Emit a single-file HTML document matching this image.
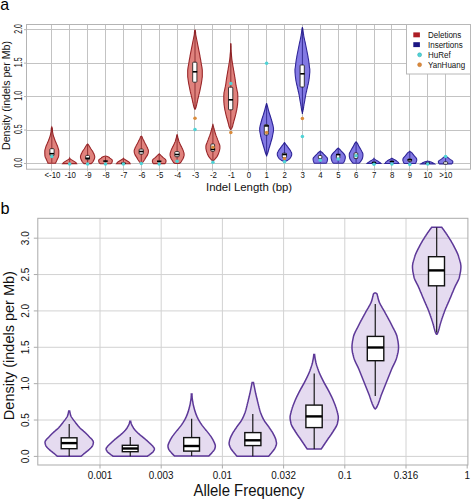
<!DOCTYPE html><html><head><meta charset="utf-8"><style>html,body{margin:0;padding:0;background:#fff;width:472px;height:500px;overflow:hidden}svg{display:block}text{font-family:"Liberation Sans",sans-serif}</style></head><body>
<svg width="472" height="500" viewBox="0 0 472 500">
<rect width="472" height="500" fill="#fff"/>
<g stroke="#c3c3c3" stroke-width="1" fill="none">
<line x1="26.5" y1="163.5" x2="470.5" y2="163.5"/>
<line x1="26.5" y1="130.5" x2="470.5" y2="130.5"/>
<line x1="26.5" y1="96.5" x2="470.5" y2="96.5"/>
<line x1="26.5" y1="63.5" x2="470.5" y2="63.5"/>
<line x1="26.5" y1="29.5" x2="470.5" y2="29.5"/>
<line x1="51.5" y1="24.5" x2="51.5" y2="171.2"/>
<line x1="69.5" y1="24.5" x2="69.5" y2="171.2"/>
<line x1="87.5" y1="24.5" x2="87.5" y2="171.2"/>
<line x1="105.5" y1="24.5" x2="105.5" y2="171.2"/>
<line x1="123.5" y1="24.5" x2="123.5" y2="171.2"/>
<line x1="141.5" y1="24.5" x2="141.5" y2="171.2"/>
<line x1="159.5" y1="24.5" x2="159.5" y2="171.2"/>
<line x1="177.5" y1="24.5" x2="177.5" y2="171.2"/>
<line x1="194.5" y1="24.5" x2="194.5" y2="171.2"/>
<line x1="212.5" y1="24.5" x2="212.5" y2="171.2"/>
<line x1="230.5" y1="24.5" x2="230.5" y2="171.2"/>
<line x1="248.5" y1="24.5" x2="248.5" y2="171.2"/>
<line x1="266.5" y1="24.5" x2="266.5" y2="171.2"/>
<line x1="284.5" y1="24.5" x2="284.5" y2="171.2"/>
<line x1="302.5" y1="24.5" x2="302.5" y2="171.2"/>
<line x1="320.5" y1="24.5" x2="320.5" y2="171.2"/>
<line x1="338.5" y1="24.5" x2="338.5" y2="171.2"/>
<line x1="356.5" y1="24.5" x2="356.5" y2="171.2"/>
<line x1="374.5" y1="24.5" x2="374.5" y2="171.2"/>
<line x1="391.5" y1="24.5" x2="391.5" y2="171.2"/>
<line x1="409.5" y1="24.5" x2="409.5" y2="171.2"/>
<line x1="427.5" y1="24.5" x2="427.5" y2="171.2"/>
<line x1="445.5" y1="24.5" x2="445.5" y2="171.2"/>
</g>
<g stroke="#b4b4b4" stroke-width="1" fill="none">
<rect x="26.5" y="24.5" width="444" height="144.7"/>
<line x1="24" y1="163.5" x2="26.5" y2="163.5"/>
<line x1="24" y1="130.05" x2="26.5" y2="130.05"/>
<line x1="24" y1="96.6" x2="26.5" y2="96.6"/>
<line x1="24" y1="63.15" x2="26.5" y2="63.15"/>
<line x1="24" y1="29.7" x2="26.5" y2="29.7"/>
</g>
<path d="M51.8 126.9 L52 127.4 L52.2 127.9 L52.3 128.4 L52.3 128.9 L52.4 129.4 L52.4 129.9 L52.4 130.4 L52.5 130.9 L52.5 131.5 L52.6 132 L52.7 132.5 L52.8 133 L52.9 133.5 L53 134 L53.1 134.5 L53.2 135 L53.3 135.5 L53.4 136 L53.6 136.5 L53.8 137 L54 137.5 L54.1 138 L54.3 138.5 L54.5 139 L54.7 139.5 L54.9 140 L55.1 140.6 L55.3 141.1 L55.5 141.6 L55.7 142.1 L56 142.6 L56.2 143.1 L56.4 143.6 L56.6 144.1 L56.8 144.6 L57 145.1 L57.3 145.6 L57.5 146.1 L57.7 146.6 L57.8 147.1 L58 147.6 L58.1 148.1 L58.3 148.6 L58.4 149.1 L58.6 149.7 L58.7 150.2 L58.8 150.7 L58.8 151.2 L58.8 151.7 L58.8 152.2 L58.8 152.7 L58.8 153.2 L58.8 153.7 L58.8 154.2 L58.7 154.7 L58.7 155.2 L58.7 155.7 L58.6 156.2 L58.5 156.7 L58.3 157.2 L58.1 157.7 L57.8 158.2 L57.6 158.8 L57.3 159.3 L57.1 159.8 L56.9 160.3 L56.6 160.8 L56.4 161.3 L56.2 161.8 L55.9 162.3 L55.7 162.8 L55.5 163.3 L48 163.3 L47.9 162.8 L47.7 162.3 L47.4 161.8 L47.2 161.3 L47 160.8 L46.7 160.3 L46.5 159.8 L46.3 159.3 L46 158.8 L45.8 158.2 L45.5 157.7 L45.3 157.2 L45.1 156.7 L45 156.2 L44.9 155.7 L44.9 155.2 L44.9 154.7 L44.8 154.2 L44.8 153.7 L44.8 153.2 L44.8 152.7 L44.8 152.2 L44.8 151.7 L44.8 151.2 L44.8 150.7 L44.9 150.2 L45 149.7 L45.2 149.1 L45.3 148.6 L45.5 148.1 L45.6 147.6 L45.8 147.1 L45.9 146.6 L46.1 146.1 L46.3 145.6 L46.6 145.1 L46.8 144.6 L47 144.1 L47.2 143.6 L47.4 143.1 L47.6 142.6 L47.9 142.1 L48.1 141.6 L48.3 141.1 L48.5 140.6 L48.7 140 L48.9 139.5 L49.1 139 L49.3 138.5 L49.5 138 L49.6 137.5 L49.8 137 L50 136.5 L50.2 136 L50.3 135.5 L50.4 135 L50.5 134.5 L50.6 134 L50.7 133.5 L50.8 133 L50.9 132.5 L51 132 L51.1 131.5 L51.1 130.9 L51.2 130.4 L51.2 129.9 L51.2 129.4 L51.3 128.9 L51.3 128.4 L51.4 127.9 L51.6 127.4 L51.8 126.9Z" fill="#e0827d" stroke="#992629" stroke-width="1.1"/>
<line x1="51.8" y1="127.9" x2="51.8" y2="162.8" stroke="#7c1d21" stroke-width="0.8"/>
<rect x="49.9" y="148.7" width="4.2" height="6.9" rx="0.8" fill="#fff" stroke="#111" stroke-width="0.8"/>
<line x1="49.6" y1="153.7" x2="54" y2="153.7" stroke="#000" stroke-width="1.6"/>
<circle cx="51.8" cy="156.5" r="1.75" fill="#4fd3d6"/>
<path d="M69.7 158.1 L69.9 158.6 L70.6 159.1 L71.3 159.6 L72.1 160.1 L72.9 160.6 L73.7 161.1 L74.5 161.6 L75.3 162.1 L75.9 162.6 L76.3 163.1 L76.6 163.6 L62.7 163.6 L63.1 163.1 L63.5 162.6 L64.1 162.1 L64.9 161.6 L65.7 161.1 L66.5 160.6 L67.3 160.1 L68.1 159.6 L68.8 159.1 L69.5 158.6 L69.7 158.1Z" fill="#e0827d" stroke="#992629" stroke-width="1.1"/>
<line x1="69.7" y1="159.1" x2="69.7" y2="163.1" stroke="#7c1d21" stroke-width="0.8"/>
<circle cx="69.7" cy="163.9" r="1.75" fill="#4fd3d6"/>
<path d="M87.6 143.5 L87.7 144 L88.1 144.5 L88.6 145 L88.9 145.5 L89.2 146 L89.5 146.5 L89.8 147 L90.1 147.5 L90.4 148 L90.7 148.5 L91 149 L91.4 149.5 L91.7 150 L92.1 150.5 L92.4 151 L92.7 151.5 L93 152 L93.2 152.5 L93.5 153 L93.7 153.6 L94 154.1 L94.2 154.6 L94.4 155.1 L94.5 155.6 L94.7 156.1 L94.7 156.6 L94.7 157.1 L94.7 157.6 L94.6 158.1 L94.4 158.6 L94.3 159.1 L94.1 159.6 L93.8 160.1 L93.6 160.6 L93.3 161.1 L93 161.6 L92.6 162.1 L92.1 162.6 L91.7 163.1 L91.1 163.6 L84 163.6 L83.5 163.1 L83.1 162.6 L82.6 162.1 L82.2 161.6 L81.9 161.1 L81.6 160.6 L81.4 160.1 L81.1 159.6 L80.9 159.1 L80.8 158.6 L80.6 158.1 L80.5 157.6 L80.5 157.1 L80.5 156.6 L80.5 156.1 L80.7 155.6 L80.8 155.1 L81 154.6 L81.2 154.1 L81.5 153.6 L81.7 153 L82 152.5 L82.2 152 L82.5 151.5 L82.8 151 L83.1 150.5 L83.5 150 L83.8 149.5 L84.2 149 L84.5 148.5 L84.8 148 L85.1 147.5 L85.4 147 L85.7 146.5 L86 146 L86.3 145.5 L86.6 145 L87.1 144.5 L87.5 144 L87.6 143.5Z" fill="#e0827d" stroke="#992629" stroke-width="1.1"/>
<line x1="87.6" y1="144.5" x2="87.6" y2="163.1" stroke="#7c1d21" stroke-width="0.8"/>
<rect x="85.7" y="155.4" width="3.8" height="4.2" rx="0.8" fill="#fff" stroke="#111" stroke-width="0.8"/>
<line x1="85.4" y1="158.3" x2="89.8" y2="158.3" stroke="#000" stroke-width="1.6"/>
<circle cx="87.6" cy="163.9" r="1.75" fill="#4fd3d6"/>
<path d="M105.5 156 L107.3 156.5 L108.5 157 L109.3 157.5 L109.9 158.1 L110.6 158.6 L111.3 159.1 L111.9 159.6 L112.3 160.1 L112.3 160.6 L112.3 161.1 L112.2 161.6 L112 162.2 L111.8 162.7 L111.3 163.2 L110.5 163.7 L100.5 163.7 L99.7 163.2 L99.2 162.7 L99 162.2 L98.8 161.6 L98.7 161.1 L98.7 160.6 L98.7 160.1 L99.1 159.6 L99.7 159.1 L100.4 158.6 L101.1 158.1 L101.7 157.5 L102.5 157 L103.7 156.5 L105.5 156Z" fill="#e0827d" stroke="#992629" stroke-width="1.1"/>
<line x1="105.5" y1="157" x2="105.5" y2="163.2" stroke="#7c1d21" stroke-width="0.8"/>
<line x1="103.3" y1="161.1" x2="107.7" y2="161.1" stroke="#000" stroke-width="1.6"/>
<circle cx="105.5" cy="164" r="1.75" fill="#4fd3d6"/>
<path d="M123.4 158.2 L123.7 158.7 L124.5 159.2 L125.3 159.7 L126.1 160.2 L126.9 160.7 L127.7 161.2 L128.5 161.7 L129.1 162.2 L129.6 162.7 L130 163.2 L130.2 163.7 L116.5 163.7 L116.8 163.2 L117.2 162.7 L117.7 162.2 L118.3 161.7 L119.1 161.2 L119.9 160.7 L120.7 160.2 L121.5 159.7 L122.3 159.2 L123.1 158.7 L123.4 158.2Z" fill="#e0827d" stroke="#992629" stroke-width="1.1"/>
<line x1="123.4" y1="159.2" x2="123.4" y2="163.2" stroke="#7c1d21" stroke-width="0.8"/>
<line x1="121.2" y1="163.3" x2="125.6" y2="163.3" stroke="#000" stroke-width="1.6"/>
<circle cx="123.4" cy="164" r="1.75" fill="#4fd3d6"/>
<path d="M141.3 136.2 L141.9 136.7 L142.3 137.2 L142.4 137.7 L142.6 138.2 L142.8 138.7 L143.1 139.2 L143.3 139.7 L143.6 140.2 L143.8 140.8 L144.1 141.3 L144.3 141.8 L144.6 142.3 L144.8 142.8 L145.1 143.3 L145.3 143.8 L145.6 144.3 L145.9 144.8 L146.1 145.3 L146.4 145.8 L146.7 146.3 L146.9 146.8 L147.2 147.3 L147.4 147.8 L147.6 148.3 L147.8 148.8 L148.1 149.3 L148.2 149.8 L148.4 150.4 L148.4 150.9 L148.4 151.4 L148.4 151.9 L148.3 152.4 L148.2 152.9 L148.1 153.4 L147.9 153.9 L147.7 154.4 L147.5 154.9 L147.2 155.4 L146.9 155.9 L146.6 156.4 L146.2 156.9 L145.9 157.4 L145.6 157.9 L145.3 158.4 L145 158.9 L144.7 159.5 L144.4 160 L144 160.5 L143.7 161 L143.4 161.5 L143 162 L142.6 162.5 L142.1 163 L141.5 163.5 L141.2 163.5 L140.5 163 L140 162.5 L139.6 162 L139.2 161.5 L138.9 161 L138.6 160.5 L138.2 160 L137.9 159.5 L137.6 158.9 L137.3 158.4 L137 157.9 L136.7 157.4 L136.4 156.9 L136 156.4 L135.7 155.9 L135.4 155.4 L135.1 154.9 L134.9 154.4 L134.7 153.9 L134.5 153.4 L134.4 152.9 L134.3 152.4 L134.2 151.9 L134.2 151.4 L134.2 150.9 L134.2 150.4 L134.4 149.8 L134.5 149.3 L134.8 148.8 L135 148.3 L135.2 147.8 L135.4 147.3 L135.7 146.8 L135.9 146.3 L136.2 145.8 L136.5 145.3 L136.7 144.8 L137 144.3 L137.3 143.8 L137.5 143.3 L137.8 142.8 L138 142.3 L138.3 141.8 L138.5 141.3 L138.8 140.8 L139 140.2 L139.3 139.7 L139.5 139.2 L139.8 138.7 L140 138.2 L140.2 137.7 L140.3 137.2 L140.7 136.7 L141.3 136.2Z" fill="#e0827d" stroke="#992629" stroke-width="1.1"/>
<line x1="141.3" y1="137.2" x2="141.3" y2="163" stroke="#7c1d21" stroke-width="0.8"/>
<rect x="139.1" y="149.1" width="4.2" height="5" rx="0.8" fill="#fff" stroke="#111" stroke-width="0.8"/>
<line x1="139.1" y1="151.5" x2="143.5" y2="151.5" stroke="#000" stroke-width="1.6"/>
<circle cx="141.3" cy="163.6" r="1.75" fill="#4fd3d6"/>
<path d="M159.2 153.7 L159.5 154.2 L160.2 154.7 L160.8 155.3 L161.4 155.8 L161.9 156.3 L162.4 156.8 L162.9 157.3 L163.5 157.9 L164.2 158.4 L164.8 158.9 L165.4 159.4 L165.8 160 L166 160.5 L166 161 L166 161.5 L165.9 162 L165.7 162.6 L165.3 163.1 L164.8 163.6 L153.6 163.6 L153.1 163.1 L152.7 162.6 L152.5 162 L152.4 161.5 L152.4 161 L152.4 160.5 L152.6 160 L153 159.4 L153.6 158.9 L154.2 158.4 L154.9 157.9 L155.5 157.3 L156 156.8 L156.5 156.3 L157 155.8 L157.6 155.3 L158.2 154.7 L158.9 154.2 L159.2 153.7Z" fill="#e0827d" stroke="#992629" stroke-width="1.1"/>
<line x1="159.2" y1="154.7" x2="159.2" y2="163.1" stroke="#7c1d21" stroke-width="0.8"/>
<line x1="157" y1="161.3" x2="161.4" y2="161.3" stroke="#000" stroke-width="1.6"/>
<circle cx="159.2" cy="163.9" r="1.75" fill="#4fd3d6"/>
<path d="M177.1 134.3 L177.2 134.8 L177.4 135.3 L177.5 135.8 L177.6 136.3 L177.7 136.8 L177.8 137.3 L177.9 137.8 L178 138.3 L178.2 138.8 L178.3 139.3 L178.4 139.8 L178.6 140.3 L178.8 140.8 L178.9 141.3 L179.1 141.9 L179.3 142.4 L179.6 142.9 L179.8 143.4 L180 143.9 L180.2 144.4 L180.5 144.9 L180.7 145.4 L181 145.9 L181.2 146.4 L181.5 146.9 L181.8 147.4 L182 147.9 L182.2 148.4 L182.5 148.9 L182.7 149.4 L182.9 149.9 L183.1 150.4 L183.3 150.9 L183.5 151.4 L183.6 151.9 L183.8 152.4 L183.9 152.9 L184 153.4 L184.1 153.9 L184.1 154.4 L184.1 154.9 L184.1 155.4 L184 155.9 L183.8 156.5 L183.7 157 L183.5 157.5 L183.3 158 L183.1 158.5 L182.8 159 L182.6 159.5 L182.2 160 L181.9 160.5 L181.6 161 L181.3 161.5 L181 162 L180.6 162.5 L180 163 L179.1 163.5 L175 163.5 L174.2 163 L173.6 162.5 L173.2 162 L172.9 161.5 L172.6 161 L172.3 160.5 L172 160 L171.6 159.5 L171.4 159 L171.1 158.5 L170.9 158 L170.7 157.5 L170.5 157 L170.4 156.5 L170.2 155.9 L170.1 155.4 L170.1 154.9 L170.1 154.4 L170.1 153.9 L170.2 153.4 L170.3 152.9 L170.4 152.4 L170.6 151.9 L170.7 151.4 L170.9 150.9 L171.1 150.4 L171.3 149.9 L171.5 149.4 L171.7 148.9 L172 148.4 L172.2 147.9 L172.4 147.4 L172.7 146.9 L173 146.4 L173.2 145.9 L173.5 145.4 L173.7 144.9 L174 144.4 L174.2 143.9 L174.4 143.4 L174.6 142.9 L174.9 142.4 L175.1 141.9 L175.3 141.3 L175.4 140.8 L175.6 140.3 L175.8 139.8 L175.9 139.3 L176 138.8 L176.2 138.3 L176.3 137.8 L176.4 137.3 L176.5 136.8 L176.6 136.3 L176.7 135.8 L176.8 135.3 L177 134.8 L177.1 134.3Z" fill="#e0827d" stroke="#992629" stroke-width="1.1"/>
<line x1="177.1" y1="135.3" x2="177.1" y2="163" stroke="#7c1d21" stroke-width="0.8"/>
<rect x="174.8" y="151.6" width="4.4" height="5.1" rx="0.8" fill="#fff" stroke="#111" stroke-width="0.8"/>
<line x1="174.9" y1="154.5" x2="179.3" y2="154.5" stroke="#000" stroke-width="1.6"/>
<circle cx="177.1" cy="161.3" r="1.75" fill="#4fd3d6"/>
<path d="M195 29.5 L195 30 L195.3 30.5 L195.4 31 L195.4 31.5 L195.5 32 L195.6 32.5 L195.6 33 L195.6 33.5 L195.7 34 L195.7 34.5 L195.8 35 L195.9 35.5 L196 36 L196.1 36.5 L196.2 37 L196.3 37.5 L196.4 38 L196.5 38.5 L196.6 39 L196.7 39.5 L196.8 40 L196.9 40.5 L197 41 L197.1 41.5 L197.2 42 L197.3 42.5 L197.4 43.1 L197.5 43.6 L197.6 44.1 L197.7 44.6 L197.8 45.1 L197.9 45.6 L198 46.1 L198.1 46.6 L198.2 47.1 L198.3 47.6 L198.4 48.1 L198.5 48.6 L198.6 49.1 L198.7 49.6 L198.8 50.1 L198.9 50.6 L199 51.1 L199.1 51.6 L199.2 52.1 L199.3 52.6 L199.4 53.1 L199.5 53.6 L199.6 54.1 L199.7 54.6 L199.8 55.1 L199.9 55.6 L200 56.1 L200 56.6 L200.1 57.1 L200.2 57.6 L200.3 58.1 L200.4 58.6 L200.5 59.1 L200.6 59.6 L200.7 60.1 L200.8 60.6 L200.8 61.1 L200.9 61.6 L201 62.1 L201.1 62.6 L201.2 63.1 L201.2 63.6 L201.3 64.1 L201.4 64.6 L201.5 65.1 L201.6 65.6 L201.7 66.1 L201.8 66.6 L201.9 67.1 L202 67.6 L202 68.1 L202.1 68.6 L202.2 69.1 L202.2 69.7 L202.3 70.2 L202.3 70.7 L202.3 71.2 L202.3 71.7 L202.3 72.2 L202.3 72.7 L202.3 73.2 L202.3 73.7 L202.3 74.2 L202.3 74.7 L202.3 75.2 L202.3 75.7 L202.3 76.2 L202.3 76.7 L202.2 77.2 L202.2 77.7 L202.1 78.2 L202 78.7 L202 79.2 L201.9 79.7 L201.8 80.2 L201.8 80.7 L201.7 81.2 L201.6 81.7 L201.5 82.2 L201.5 82.7 L201.4 83.2 L201.3 83.7 L201.2 84.2 L201.1 84.7 L201 85.2 L200.9 85.7 L200.8 86.2 L200.7 86.7 L200.6 87.2 L200.5 87.7 L200.4 88.2 L200.3 88.7 L200.2 89.2 L200.1 89.7 L200 90.2 L199.9 90.7 L199.8 91.2 L199.7 91.7 L199.5 92.2 L199.4 92.7 L199.3 93.2 L199.2 93.7 L199 94.2 L198.9 94.7 L198.8 95.2 L198.7 95.7 L198.5 96.2 L198.4 96.8 L198.3 97.3 L198.2 97.8 L198.1 98.3 L197.9 98.8 L197.8 99.3 L197.7 99.8 L197.6 100.3 L197.5 100.8 L197.4 101.3 L197.3 101.8 L197.2 102.3 L197.1 102.8 L196.9 103.3 L196.8 103.8 L196.7 104.3 L196.6 104.8 L196.5 105.3 L196.4 105.8 L196.2 106.3 L196.1 106.8 L196 107.3 L195.8 107.8 L195.6 108.3 L195.4 108.8 L195 109.3 L195 109.8 L195 109.8 L195 109.3 L194.6 108.8 L194.4 108.3 L194.2 107.8 L194 107.3 L193.9 106.8 L193.8 106.3 L193.6 105.8 L193.5 105.3 L193.4 104.8 L193.3 104.3 L193.2 103.8 L193.1 103.3 L192.9 102.8 L192.8 102.3 L192.7 101.8 L192.6 101.3 L192.5 100.8 L192.4 100.3 L192.3 99.8 L192.2 99.3 L192.1 98.8 L191.9 98.3 L191.8 97.8 L191.7 97.3 L191.6 96.8 L191.5 96.2 L191.3 95.7 L191.2 95.2 L191.1 94.7 L191 94.2 L190.8 93.7 L190.7 93.2 L190.6 92.7 L190.5 92.2 L190.3 91.7 L190.2 91.2 L190.1 90.7 L190 90.2 L189.9 89.7 L189.8 89.2 L189.7 88.7 L189.6 88.2 L189.5 87.7 L189.4 87.2 L189.3 86.7 L189.2 86.2 L189.1 85.7 L189 85.2 L188.9 84.7 L188.8 84.2 L188.7 83.7 L188.6 83.2 L188.5 82.7 L188.5 82.2 L188.4 81.7 L188.3 81.2 L188.2 80.7 L188.2 80.2 L188.1 79.7 L188 79.2 L188 78.7 L187.9 78.2 L187.8 77.7 L187.8 77.2 L187.7 76.7 L187.7 76.2 L187.7 75.7 L187.7 75.2 L187.7 74.7 L187.7 74.2 L187.7 73.7 L187.7 73.2 L187.7 72.7 L187.7 72.2 L187.7 71.7 L187.7 71.2 L187.7 70.7 L187.7 70.2 L187.8 69.7 L187.8 69.1 L187.9 68.6 L188 68.1 L188 67.6 L188.1 67.1 L188.2 66.6 L188.3 66.1 L188.4 65.6 L188.5 65.1 L188.6 64.6 L188.7 64.1 L188.8 63.6 L188.8 63.1 L188.9 62.6 L189 62.1 L189.1 61.6 L189.2 61.1 L189.2 60.6 L189.3 60.1 L189.4 59.6 L189.5 59.1 L189.6 58.6 L189.7 58.1 L189.8 57.6 L189.9 57.1 L190 56.6 L190 56.1 L190.1 55.6 L190.2 55.1 L190.3 54.6 L190.4 54.1 L190.5 53.6 L190.6 53.1 L190.7 52.6 L190.8 52.1 L190.9 51.6 L191 51.1 L191.1 50.6 L191.2 50.1 L191.3 49.6 L191.4 49.1 L191.5 48.6 L191.6 48.1 L191.7 47.6 L191.8 47.1 L191.9 46.6 L192 46.1 L192.1 45.6 L192.2 45.1 L192.3 44.6 L192.4 44.1 L192.5 43.6 L192.6 43.1 L192.7 42.5 L192.8 42 L192.9 41.5 L193 41 L193.1 40.5 L193.2 40 L193.3 39.5 L193.4 39 L193.5 38.5 L193.6 38 L193.7 37.5 L193.8 37 L193.9 36.5 L194 36 L194.1 35.5 L194.2 35 L194.3 34.5 L194.3 34 L194.4 33.5 L194.4 33 L194.4 32.5 L194.5 32 L194.6 31.5 L194.6 31 L194.7 30.5 L195 30 L195 29.5Z" fill="#e0827d" stroke="#992629" stroke-width="1.1"/>
<line x1="195" y1="30.5" x2="195" y2="109.3" stroke="#7c1d21" stroke-width="0.8"/>
<rect x="192.7" y="62.2" width="4.2" height="20" rx="0.8" fill="#fff" stroke="#111" stroke-width="0.8"/>
<line x1="192.8" y1="71.8" x2="197.2" y2="71.8" stroke="#000" stroke-width="1.6"/>
<circle cx="195" cy="118.3" r="1.75" fill="#d98a3a"/>
<circle cx="195" cy="129.4" r="1.75" fill="#4fd3d6"/>
<path d="M212.9 123.7 L212.9 124.2 L212.9 124.7 L213 125.2 L213.2 125.7 L213.3 126.2 L213.5 126.7 L213.6 127.2 L213.8 127.8 L213.9 128.3 L214 128.8 L214.2 129.3 L214.3 129.8 L214.4 130.3 L214.6 130.8 L214.7 131.3 L214.8 131.8 L215 132.3 L215.1 132.8 L215.3 133.3 L215.4 133.8 L215.6 134.3 L215.8 134.8 L216 135.4 L216.2 135.9 L216.4 136.4 L216.6 136.9 L216.8 137.4 L217 137.9 L217.2 138.4 L217.4 138.9 L217.5 139.4 L217.7 139.9 L217.9 140.4 L218.1 140.9 L218.3 141.4 L218.5 141.9 L218.7 142.4 L218.9 143 L219.1 143.5 L219.3 144 L219.5 144.5 L219.6 145 L219.8 145.5 L219.9 146 L219.9 146.5 L219.9 147 L219.9 147.5 L219.9 148 L219.9 148.5 L219.8 149 L219.7 149.5 L219.6 150 L219.4 150.6 L219.3 151.1 L219.2 151.6 L219 152.1 L218.8 152.6 L218.6 153.1 L218.5 153.6 L218.3 154.1 L218.1 154.6 L217.8 155.1 L217.6 155.6 L217.3 156.1 L217 156.6 L216.6 157.1 L216.2 157.6 L215.8 158.2 L215.4 158.7 L214.9 159.2 L214.5 159.7 L214 160.2 L213.5 160.7 L213 161.2 L212.9 161.7 L212.9 161.7 L212.8 161.2 L212.3 160.7 L211.8 160.2 L211.3 159.7 L210.9 159.2 L210.4 158.7 L210 158.2 L209.6 157.6 L209.2 157.1 L208.8 156.6 L208.5 156.1 L208.2 155.6 L208 155.1 L207.7 154.6 L207.5 154.1 L207.3 153.6 L207.2 153.1 L207 152.6 L206.8 152.1 L206.6 151.6 L206.5 151.1 L206.4 150.6 L206.2 150 L206.1 149.5 L206 149 L205.9 148.5 L205.9 148 L205.9 147.5 L205.9 147 L205.9 146.5 L205.9 146 L206 145.5 L206.2 145 L206.3 144.5 L206.5 144 L206.7 143.5 L206.9 143 L207.1 142.4 L207.3 141.9 L207.5 141.4 L207.7 140.9 L207.9 140.4 L208.1 139.9 L208.3 139.4 L208.4 138.9 L208.6 138.4 L208.8 137.9 L209 137.4 L209.2 136.9 L209.4 136.4 L209.6 135.9 L209.8 135.4 L210 134.8 L210.2 134.3 L210.4 133.8 L210.5 133.3 L210.7 132.8 L210.8 132.3 L211 131.8 L211.1 131.3 L211.2 130.8 L211.4 130.3 L211.5 129.8 L211.6 129.3 L211.8 128.8 L211.9 128.3 L212 127.8 L212.2 127.2 L212.3 126.7 L212.5 126.2 L212.6 125.7 L212.8 125.2 L212.9 124.7 L212.9 124.2 L212.9 123.7Z" fill="#e0827d" stroke="#992629" stroke-width="1.1"/>
<line x1="212.9" y1="124.7" x2="212.9" y2="161.2" stroke="#7c1d21" stroke-width="0.8"/>
<rect x="210.9" y="144" width="3.7" height="7.3" rx="0.8" fill="#fff" stroke="#111" stroke-width="0.8"/>
<line x1="210.7" y1="149.4" x2="215.1" y2="149.4" stroke="#000" stroke-width="1.6"/>
<circle cx="212.9" cy="147.2" r="1.75" fill="#d98a3a"/>
<circle cx="212.9" cy="162.2" r="1.75" fill="#4fd3d6"/>
<path d="M230.8 43 L230.8 43.5 L230.9 44 L230.9 44.5 L230.9 45 L230.9 45.5 L231 46 L231 46.5 L231 47 L231 47.5 L231 48 L231 48.5 L231 49 L231 49.5 L231.1 50 L231.1 50.5 L231.1 51 L231.1 51.5 L231.2 52 L231.2 52.5 L231.3 53 L231.3 53.5 L231.4 54 L231.4 54.5 L231.5 55 L231.5 55.5 L231.5 56 L231.6 56.5 L231.6 57 L231.7 57.6 L231.7 58.1 L231.8 58.6 L231.8 59.1 L231.9 59.6 L232 60.1 L232 60.6 L232.1 61.1 L232.2 61.6 L232.3 62.1 L232.3 62.6 L232.4 63.1 L232.5 63.6 L232.6 64.1 L232.7 64.6 L232.8 65.1 L232.8 65.6 L232.9 66.1 L233 66.6 L233.1 67.1 L233.2 67.6 L233.3 68.1 L233.4 68.6 L233.4 69.1 L233.5 69.6 L233.6 70.1 L233.7 70.6 L233.8 71.1 L233.9 71.6 L234 72.1 L234 72.6 L234.1 73.1 L234.2 73.6 L234.3 74.1 L234.4 74.6 L234.5 75.1 L234.6 75.6 L234.6 76.1 L234.7 76.6 L234.8 77.1 L234.9 77.6 L235 78.1 L235 78.6 L235.1 79.1 L235.2 79.6 L235.3 80.1 L235.3 80.6 L235.4 81.1 L235.5 81.6 L235.5 82.1 L235.6 82.6 L235.7 83.1 L235.7 83.6 L235.8 84.1 L235.9 84.6 L236 85.1 L236.1 85.6 L236.2 86.1 L236.3 86.7 L236.4 87.2 L236.5 87.7 L236.6 88.2 L236.7 88.7 L236.8 89.2 L236.9 89.7 L237 90.2 L237.1 90.7 L237.2 91.2 L237.4 91.7 L237.5 92.2 L237.6 92.7 L237.6 93.2 L237.7 93.7 L237.7 94.2 L237.7 94.7 L237.8 95.2 L237.8 95.7 L237.8 96.2 L237.8 96.7 L237.8 97.2 L237.8 97.7 L237.8 98.2 L237.8 98.7 L237.8 99.2 L237.8 99.7 L237.8 100.2 L237.8 100.7 L237.8 101.2 L237.7 101.7 L237.7 102.2 L237.7 102.7 L237.6 103.2 L237.6 103.7 L237.6 104.2 L237.5 104.7 L237.4 105.2 L237.4 105.7 L237.3 106.2 L237.2 106.7 L237.2 107.2 L237.1 107.7 L237 108.2 L236.9 108.7 L236.8 109.2 L236.8 109.7 L236.7 110.2 L236.5 110.7 L236.4 111.2 L236.3 111.7 L236.2 112.2 L236.1 112.7 L236 113.2 L235.9 113.7 L235.8 114.2 L235.6 114.7 L235.5 115.2 L235.4 115.8 L235.2 116.3 L235.1 116.8 L235 117.3 L234.8 117.8 L234.7 118.3 L234.5 118.8 L234.4 119.3 L234.3 119.8 L234.1 120.3 L234 120.8 L233.8 121.3 L233.7 121.8 L233.6 122.3 L233.4 122.8 L233.3 123.3 L233.2 123.8 L233 124.3 L232.9 124.8 L232.8 125.3 L232.7 125.8 L232.6 126.3 L232.4 126.8 L232.2 127.3 L232 127.8 L231.8 128.3 L231.4 128.8 L230.9 129.3 L230.8 129.8 L230.8 129.8 L230.7 129.3 L230.2 128.8 L229.8 128.3 L229.6 127.8 L229.4 127.3 L229.2 126.8 L229 126.3 L228.9 125.8 L228.8 125.3 L228.7 124.8 L228.6 124.3 L228.4 123.8 L228.3 123.3 L228.2 122.8 L228 122.3 L227.9 121.8 L227.8 121.3 L227.6 120.8 L227.5 120.3 L227.3 119.8 L227.2 119.3 L227.1 118.8 L226.9 118.3 L226.8 117.8 L226.6 117.3 L226.5 116.8 L226.4 116.3 L226.2 115.8 L226.1 115.2 L226 114.7 L225.8 114.2 L225.7 113.7 L225.6 113.2 L225.5 112.7 L225.4 112.2 L225.3 111.7 L225.2 111.2 L225.1 110.7 L224.9 110.2 L224.8 109.7 L224.8 109.2 L224.7 108.7 L224.6 108.2 L224.5 107.7 L224.4 107.2 L224.4 106.7 L224.3 106.2 L224.2 105.7 L224.2 105.2 L224.1 104.7 L224 104.2 L224 103.7 L224 103.2 L223.9 102.7 L223.9 102.2 L223.9 101.7 L223.8 101.2 L223.8 100.7 L223.8 100.2 L223.8 99.7 L223.8 99.2 L223.8 98.7 L223.8 98.2 L223.8 97.7 L223.8 97.2 L223.8 96.7 L223.8 96.2 L223.8 95.7 L223.8 95.2 L223.9 94.7 L223.9 94.2 L223.9 93.7 L224 93.2 L224 92.7 L224.1 92.2 L224.2 91.7 L224.4 91.2 L224.5 90.7 L224.6 90.2 L224.7 89.7 L224.8 89.2 L224.9 88.7 L225 88.2 L225.1 87.7 L225.2 87.2 L225.3 86.7 L225.4 86.1 L225.5 85.6 L225.6 85.1 L225.7 84.6 L225.8 84.1 L225.9 83.6 L225.9 83.1 L226 82.6 L226.1 82.1 L226.1 81.6 L226.2 81.1 L226.3 80.6 L226.3 80.1 L226.4 79.6 L226.5 79.1 L226.6 78.6 L226.6 78.1 L226.7 77.6 L226.8 77.1 L226.9 76.6 L227 76.1 L227 75.6 L227.1 75.1 L227.2 74.6 L227.3 74.1 L227.4 73.6 L227.5 73.1 L227.6 72.6 L227.6 72.1 L227.7 71.6 L227.8 71.1 L227.9 70.6 L228 70.1 L228.1 69.6 L228.2 69.1 L228.2 68.6 L228.3 68.1 L228.4 67.6 L228.5 67.1 L228.6 66.6 L228.7 66.1 L228.8 65.6 L228.8 65.1 L228.9 64.6 L229 64.1 L229.1 63.6 L229.2 63.1 L229.3 62.6 L229.3 62.1 L229.4 61.6 L229.5 61.1 L229.6 60.6 L229.6 60.1 L229.7 59.6 L229.8 59.1 L229.8 58.6 L229.9 58.1 L229.9 57.6 L230 57 L230 56.5 L230.1 56 L230.1 55.5 L230.1 55 L230.2 54.5 L230.2 54 L230.3 53.5 L230.3 53 L230.4 52.5 L230.4 52 L230.5 51.5 L230.5 51 L230.5 50.5 L230.5 50 L230.6 49.5 L230.6 49 L230.6 48.5 L230.6 48 L230.6 47.5 L230.6 47 L230.6 46.5 L230.6 46 L230.7 45.5 L230.7 45 L230.7 44.5 L230.7 44 L230.8 43.5 L230.8 43Z" fill="#e0827d" stroke="#992629" stroke-width="1.1"/>
<line x1="230.8" y1="44" x2="230.8" y2="129.3" stroke="#7c1d21" stroke-width="0.8"/>
<rect x="228.5" y="87.2" width="4.3" height="22.6" rx="0.8" fill="#fff" stroke="#111" stroke-width="0.8"/>
<line x1="228.6" y1="99.8" x2="233" y2="99.8" stroke="#000" stroke-width="1.6"/>
<circle cx="230.8" cy="83.6" r="1.75" fill="#4fd3d6"/>
<circle cx="230.8" cy="132.6" r="1.75" fill="#d98a3a"/>
<path d="M266.6 103 L266.6 103.5 L266.7 104 L266.9 104.5 L267.1 105 L267.2 105.5 L267.3 106 L267.5 106.5 L267.6 107 L267.8 107.5 L267.9 108 L268 108.5 L268.1 109 L268.3 109.5 L268.4 110 L268.5 110.5 L268.7 111 L268.8 111.5 L268.9 112 L269.1 112.5 L269.3 113 L269.4 113.5 L269.6 114 L269.7 114.5 L269.9 115 L270.1 115.5 L270.2 116 L270.4 116.5 L270.5 117 L270.7 117.5 L270.8 118 L271 118.5 L271.2 119 L271.3 119.5 L271.5 120 L271.6 120.5 L271.7 121 L271.9 121.5 L272 122 L272.2 122.5 L272.3 123 L272.4 123.5 L272.5 124 L272.7 124.5 L272.8 125 L273 125.5 L273.1 126 L273.2 126.5 L273.3 127 L273.4 127.5 L273.5 128 L273.5 128.5 L273.5 129 L273.5 129.5 L273.5 130 L273.5 130.5 L273.4 131 L273.4 131.5 L273.3 132 L273.2 132.5 L273.1 133 L273 133.5 L272.9 134 L272.8 134.5 L272.7 135 L272.6 135.5 L272.5 136 L272.5 136.5 L272.3 137 L272.2 137.5 L272.1 138 L272 138.5 L271.8 139 L271.7 139.5 L271.5 140 L271.4 140.5 L271.2 141 L271.1 141.5 L270.9 142 L270.8 142.5 L270.7 143 L270.5 143.5 L270.4 144 L270.2 144.5 L270.1 145 L269.9 145.5 L269.8 146 L269.6 146.5 L269.5 147 L269.3 147.5 L269.1 148 L269 148.5 L268.9 149 L268.7 149.5 L268.6 150 L268.4 150.5 L268.3 151 L268.2 151.5 L268 152 L267.9 152.5 L267.7 153 L267.5 153.5 L267.3 154 L267.1 154.5 L266.9 155 L266.7 155.5 L266.6 156 L266.6 156.5 L266.6 156.5 L266.6 156 L266.5 155.5 L266.3 155 L266.1 154.5 L265.8 154 L265.7 153.5 L265.5 153 L265.3 152.5 L265.2 152 L265 151.5 L264.9 151 L264.8 150.5 L264.6 150 L264.5 149.5 L264.3 149 L264.2 148.5 L264 148 L263.9 147.5 L263.7 147 L263.6 146.5 L263.4 146 L263.3 145.5 L263.1 145 L263 144.5 L262.8 144 L262.7 143.5 L262.5 143 L262.4 142.5 L262.2 142 L262.1 141.5 L262 141 L261.8 140.5 L261.7 140 L261.5 139.5 L261.4 139 L261.2 138.5 L261.1 138 L261 137.5 L260.9 137 L260.7 136.5 L260.6 136 L260.6 135.5 L260.5 135 L260.4 134.5 L260.3 134 L260.2 133.5 L260.1 133 L260 132.5 L259.9 132 L259.8 131.5 L259.8 131 L259.7 130.5 L259.7 130 L259.7 129.5 L259.7 129 L259.7 128.5 L259.7 128 L259.8 127.5 L259.9 127 L260 126.5 L260.1 126 L260.2 125.5 L260.4 125 L260.5 124.5 L260.6 124 L260.8 123.5 L260.9 123 L261 122.5 L261.2 122 L261.3 121.5 L261.5 121 L261.6 120.5 L261.7 120 L261.9 119.5 L262 119 L262.2 118.5 L262.3 118 L262.5 117.5 L262.7 117 L262.8 116.5 L263 116 L263.1 115.5 L263.3 115 L263.5 114.5 L263.6 114 L263.8 113.5 L263.9 113 L264.1 112.5 L264.2 112 L264.4 111.5 L264.5 111 L264.7 110.5 L264.8 110 L264.9 109.5 L265.1 109 L265.2 108.5 L265.3 108 L265.4 107.5 L265.6 107 L265.7 106.5 L265.8 106 L266 105.5 L266.1 105 L266.3 104.5 L266.4 104 L266.6 103.5 L266.6 103Z" fill="#8279e3" stroke="#2f2598" stroke-width="1.1"/>
<line x1="266.6" y1="104" x2="266.6" y2="156" stroke="#221a80" stroke-width="0.8"/>
<rect x="264.3" y="124.6" width="4" height="10.3" rx="0.8" fill="#fff" stroke="#111" stroke-width="0.8"/>
<line x1="264.4" y1="125.9" x2="268.8" y2="125.9" stroke="#000" stroke-width="1.6"/>
<circle cx="266.6" cy="132.4" r="1.75" fill="#d98a3a"/>
<circle cx="266.6" cy="63.2" r="1.75" fill="#4fd3d6"/>
<path d="M284.5 142 L284.5 142.5 L284.9 143 L285.3 143.5 L285.6 144 L286 144.6 L286.4 145.1 L286.8 145.6 L287.2 146.1 L287.5 146.6 L287.9 147.1 L288.3 147.6 L288.6 148.1 L289 148.6 L289.4 149.1 L289.8 149.7 L290.2 150.2 L290.5 150.7 L290.7 151.2 L291 151.7 L291.3 152.2 L291.5 152.7 L291.6 153.2 L291.7 153.7 L291.7 154.3 L291.7 154.8 L291.6 155.3 L291.4 155.8 L291.2 156.3 L291 156.8 L290.7 157.3 L290.4 157.8 L290 158.3 L289.5 158.8 L288.9 159.4 L288.2 159.9 L287.3 160.4 L286.2 160.9 L284.5 161.4 L284.5 161.4 L282.8 160.9 L281.7 160.4 L280.8 159.9 L280.1 159.4 L279.5 158.8 L279 158.3 L278.6 157.8 L278.3 157.3 L278 156.8 L277.8 156.3 L277.6 155.8 L277.4 155.3 L277.3 154.8 L277.3 154.3 L277.3 153.7 L277.4 153.2 L277.5 152.7 L277.7 152.2 L278 151.7 L278.3 151.2 L278.5 150.7 L278.8 150.2 L279.2 149.7 L279.6 149.1 L280 148.6 L280.4 148.1 L280.7 147.6 L281.1 147.1 L281.5 146.6 L281.8 146.1 L282.2 145.6 L282.6 145.1 L283 144.6 L283.4 144 L283.7 143.5 L284.1 143 L284.5 142.5 L284.5 142Z" fill="#8279e3" stroke="#2f2598" stroke-width="1.1"/>
<line x1="284.5" y1="143" x2="284.5" y2="160.9" stroke="#221a80" stroke-width="0.8"/>
<rect x="282.3" y="153.2" width="4.2" height="4.4" rx="0.8" fill="#fff" stroke="#111" stroke-width="0.8"/>
<line x1="282.3" y1="154.5" x2="286.7" y2="154.5" stroke="#000" stroke-width="1.6"/>
<circle cx="284.5" cy="158.4" r="1.75" fill="#d98a3a"/>
<circle cx="284.5" cy="161.7" r="1.75" fill="#4fd3d6"/>
<path d="M302.4 27 L302.4 27.5 L302.5 28 L302.7 28.5 L302.8 29 L302.9 29.5 L302.9 30 L303 30.5 L303.1 31 L303.1 31.5 L303.2 32 L303.3 32.5 L303.3 33 L303.4 33.5 L303.5 34 L303.6 34.5 L303.6 35 L303.7 35.5 L303.8 36 L303.9 36.5 L303.9 37 L304 37.5 L304.1 38 L304.3 38.5 L304.4 39 L304.5 39.5 L304.6 40 L304.7 40.5 L304.8 41 L304.9 41.5 L305 42 L305.2 42.5 L305.3 43 L305.4 43.5 L305.5 44 L305.6 44.5 L305.7 45 L305.8 45.5 L305.9 46 L306 46.5 L306.1 47 L306.2 47.5 L306.3 48 L306.4 48.5 L306.5 49 L306.6 49.5 L306.7 50 L306.8 50.5 L306.9 51 L307 51.5 L307.1 52 L307.2 52.5 L307.3 53 L307.4 53.5 L307.5 54 L307.6 54.5 L307.7 55 L307.8 55.5 L307.9 56 L308 56.5 L308 57 L308.1 57.5 L308.2 58 L308.3 58.5 L308.4 59 L308.5 59.5 L308.6 60 L308.6 60.5 L308.7 61 L308.8 61.5 L308.8 62 L308.9 62.5 L309 63 L309 63.5 L309.1 64 L309.2 64.5 L309.2 65 L309.3 65.5 L309.3 66 L309.4 66.5 L309.4 67 L309.5 67.5 L309.6 68 L309.7 68.5 L309.8 69 L309.8 69.5 L309.8 70 L309.8 70.5 L309.8 71 L309.8 71.5 L309.8 72 L309.8 72.5 L309.7 73 L309.7 73.5 L309.6 74 L309.6 74.5 L309.5 75 L309.5 75.5 L309.5 76 L309.4 76.5 L309.4 77 L309.3 77.5 L309.2 78 L309.2 78.5 L309.1 79 L309 79.5 L308.9 80 L308.9 80.5 L308.8 81 L308.7 81.5 L308.6 82 L308.5 82.5 L308.4 83 L308.3 83.5 L308.2 84 L308.1 84.5 L307.9 85 L307.8 85.5 L307.7 86 L307.6 86.5 L307.5 87 L307.4 87.5 L307.3 88 L307.1 88.5 L307 89 L306.9 89.5 L306.8 90 L306.7 90.5 L306.6 91 L306.5 91.5 L306.3 92 L306.2 92.5 L306.1 93 L306 93.5 L305.9 94 L305.8 94.5 L305.7 95 L305.6 95.5 L305.5 96 L305.4 96.5 L305.3 97 L305.3 97.5 L305.2 98 L305.1 98.5 L305 99 L304.9 99.5 L304.8 100 L304.8 100.5 L304.7 101 L304.6 101.5 L304.5 102 L304.4 102.5 L304.3 103 L304.2 103.5 L304.1 104 L304 104.5 L303.9 105 L303.9 105.5 L303.8 106 L303.7 106.5 L303.6 107 L303.6 107.5 L303.5 108 L303.4 108.5 L303.3 109 L303.3 109.5 L303.1 110 L303 110.5 L302.9 111 L302.8 111.5 L302.6 112 L302.5 112.5 L302.4 113 L302.4 113.5 L302.4 114 L302.4 114 L302.4 113.5 L302.4 113 L302.3 112.5 L302.2 112 L302 111.5 L301.9 111 L301.8 110.5 L301.6 110 L301.5 109.5 L301.5 109 L301.4 108.5 L301.3 108 L301.2 107.5 L301.2 107 L301.1 106.5 L301 106 L300.9 105.5 L300.8 105 L300.8 104.5 L300.7 104 L300.6 103.5 L300.5 103 L300.4 102.5 L300.3 102 L300.2 101.5 L300.1 101 L300 100.5 L299.9 100 L299.9 99.5 L299.8 99 L299.7 98.5 L299.6 98 L299.5 97.5 L299.5 97 L299.4 96.5 L299.3 96 L299.2 95.5 L299.1 95 L299 94.5 L298.9 94 L298.8 93.5 L298.7 93 L298.6 92.5 L298.5 92 L298.3 91.5 L298.2 91 L298.1 90.5 L298 90 L297.9 89.5 L297.8 89 L297.7 88.5 L297.5 88 L297.4 87.5 L297.3 87 L297.2 86.5 L297.1 86 L297 85.5 L296.8 85 L296.7 84.5 L296.6 84 L296.5 83.5 L296.4 83 L296.3 82.5 L296.2 82 L296.1 81.5 L296 81 L295.9 80.5 L295.8 80 L295.8 79.5 L295.7 79 L295.6 78.5 L295.6 78 L295.5 77.5 L295.4 77 L295.4 76.5 L295.3 76 L295.3 75.5 L295.2 75 L295.2 74.5 L295.2 74 L295.1 73.5 L295.1 73 L295 72.5 L295 72 L295 71.5 L295 71 L295 70.5 L294.9 70 L295 69.5 L295 69 L295.1 68.5 L295.2 68 L295.3 67.5 L295.3 67 L295.4 66.5 L295.5 66 L295.5 65.5 L295.6 65 L295.6 64.5 L295.7 64 L295.8 63.5 L295.8 63 L295.9 62.5 L295.9 62 L296 61.5 L296.1 61 L296.2 60.5 L296.2 60 L296.3 59.5 L296.4 59 L296.5 58.5 L296.6 58 L296.7 57.5 L296.8 57 L296.8 56.5 L296.9 56 L297 55.5 L297.1 55 L297.2 54.5 L297.3 54 L297.4 53.5 L297.5 53 L297.6 52.5 L297.7 52 L297.8 51.5 L297.9 51 L298 50.5 L298.1 50 L298.2 49.5 L298.3 49 L298.4 48.5 L298.5 48 L298.6 47.5 L298.7 47 L298.8 46.5 L298.9 46 L299 45.5 L299.1 45 L299.2 44.5 L299.3 44 L299.4 43.5 L299.5 43 L299.6 42.5 L299.8 42 L299.9 41.5 L300 41 L300.1 40.5 L300.2 40 L300.3 39.5 L300.4 39 L300.5 38.5 L300.7 38 L300.8 37.5 L300.8 37 L300.9 36.5 L301 36 L301.1 35.5 L301.2 35 L301.2 34.5 L301.3 34 L301.4 33.5 L301.5 33 L301.5 32.5 L301.6 32 L301.7 31.5 L301.7 31 L301.8 30.5 L301.9 30 L301.9 29.5 L302 29 L302.1 28.5 L302.2 28 L302.4 27.5 L302.4 27Z" fill="#8279e3" stroke="#2f2598" stroke-width="1.1"/>
<line x1="302.4" y1="28" x2="302.4" y2="113.5" stroke="#221a80" stroke-width="0.8"/>
<rect x="300.1" y="65" width="4.2" height="22" rx="0.8" fill="#fff" stroke="#111" stroke-width="0.8"/>
<line x1="300.2" y1="73.8" x2="304.6" y2="73.8" stroke="#000" stroke-width="1.6"/>
<circle cx="302.4" cy="118.5" r="1.75" fill="#d98a3a"/>
<circle cx="302.4" cy="136.4" r="1.75" fill="#4fd3d6"/>
<path d="M320.3 151 L320.7 151.5 L321.5 152 L322.1 152.5 L322.7 153 L323.2 153.5 L323.7 154.1 L324.2 154.6 L324.7 155.1 L325.2 155.6 L325.7 156.1 L326.1 156.6 L326.6 157.1 L327 157.6 L327.3 158.1 L327.5 158.6 L327.5 159.1 L327.5 159.6 L327.4 160.1 L327.3 160.7 L327.2 161.2 L327 161.7 L326.8 162.2 L326.5 162.7 L326.2 163.2 L314.4 163.2 L314.1 162.7 L313.8 162.2 L313.6 161.7 L313.4 161.2 L313.3 160.7 L313.2 160.1 L313.1 159.6 L313.1 159.1 L313.1 158.6 L313.3 158.1 L313.6 157.6 L314 157.1 L314.5 156.6 L314.9 156.1 L315.4 155.6 L315.9 155.1 L316.4 154.6 L316.9 154.1 L317.4 153.5 L317.9 153 L318.5 152.5 L319.1 152 L319.9 151.5 L320.3 151Z" fill="#8279e3" stroke="#2f2598" stroke-width="1.1"/>
<line x1="320.3" y1="152" x2="320.3" y2="162.7" stroke="#221a80" stroke-width="0.8"/>
<rect x="318.4" y="155.5" width="3.4" height="3.1" rx="0.8" fill="#fff" stroke="#111" stroke-width="0.8"/>
<circle cx="320.3" cy="160.2" r="1.75" fill="#4fd3d6"/>
<path d="M338.2 148 L338.6 148.5 L339.3 149 L339.9 149.5 L340.4 150 L340.9 150.6 L341.3 151.1 L341.8 151.6 L342.3 152.1 L342.8 152.6 L343.3 153.1 L343.7 153.6 L344.1 154.1 L344.4 154.6 L344.7 155.1 L345 155.7 L345.2 156.2 L345.3 156.7 L345.3 157.2 L345.3 157.7 L345.2 158.2 L345.2 158.7 L345 159.2 L344.9 159.7 L344.8 160.2 L344.6 160.8 L344.4 161.3 L344.1 161.8 L343.8 162.3 L343.3 162.8 L342.8 163.3 L333.6 163.3 L333.1 162.8 L332.6 162.3 L332.3 161.8 L332 161.3 L331.8 160.8 L331.6 160.2 L331.5 159.7 L331.4 159.2 L331.2 158.7 L331.2 158.2 L331.1 157.7 L331.1 157.2 L331.1 156.7 L331.2 156.2 L331.4 155.7 L331.7 155.1 L332 154.6 L332.3 154.1 L332.7 153.6 L333.1 153.1 L333.6 152.6 L334.1 152.1 L334.6 151.6 L335.1 151.1 L335.5 150.6 L336 150 L336.5 149.5 L337.1 149 L337.8 148.5 L338.2 148Z" fill="#8279e3" stroke="#2f2598" stroke-width="1.1"/>
<line x1="338.2" y1="149" x2="338.2" y2="162.8" stroke="#221a80" stroke-width="0.8"/>
<rect x="336.4" y="154.4" width="3.4" height="4" rx="0.8" fill="#fff" stroke="#111" stroke-width="0.8"/>
<line x1="336" y1="154.6" x2="340.4" y2="154.6" stroke="#000" stroke-width="1.6"/>
<circle cx="338.2" cy="158.9" r="1.75" fill="#4fd3d6"/>
<path d="M356.1 141.3 L356.1 141.8 L356.6 142.3 L357 142.8 L357.4 143.3 L357.7 143.8 L357.9 144.4 L358.2 144.9 L358.4 145.4 L358.7 145.9 L358.9 146.4 L359.2 146.9 L359.5 147.4 L359.8 147.9 L360.1 148.4 L360.5 148.9 L360.8 149.4 L361.1 150 L361.4 150.5 L361.6 151 L361.9 151.5 L362.1 152 L362.4 152.5 L362.6 153 L362.8 153.5 L362.9 154 L362.9 154.5 L362.9 155.1 L362.9 155.6 L362.9 156.1 L362.8 156.6 L362.7 157.1 L362.6 157.6 L362.5 158.1 L362.4 158.6 L362.1 159.1 L361.8 159.6 L361.5 160.1 L361.2 160.7 L360.8 161.2 L360.5 161.7 L360.1 162.2 L359.6 162.7 L359.1 163.2 L353 163.2 L352.6 162.7 L352.1 162.2 L351.7 161.7 L351.4 161.2 L351 160.7 L350.7 160.1 L350.4 159.6 L350.1 159.1 L349.8 158.6 L349.7 158.1 L349.6 157.6 L349.5 157.1 L349.4 156.6 L349.3 156.1 L349.3 155.6 L349.3 155.1 L349.3 154.5 L349.3 154 L349.4 153.5 L349.6 153 L349.8 152.5 L350.1 152 L350.3 151.5 L350.6 151 L350.8 150.5 L351.1 150 L351.4 149.4 L351.7 148.9 L352.1 148.4 L352.4 147.9 L352.7 147.4 L353 146.9 L353.3 146.4 L353.5 145.9 L353.8 145.4 L354 144.9 L354.3 144.4 L354.5 143.8 L354.8 143.3 L355.2 142.8 L355.6 142.3 L356.1 141.8 L356.1 141.3Z" fill="#8279e3" stroke="#2f2598" stroke-width="1.1"/>
<line x1="356.1" y1="142.3" x2="356.1" y2="162.7" stroke="#221a80" stroke-width="0.8"/>
<rect x="354.1" y="152.8" width="3.6" height="5.8" rx="0.8" fill="#fff" stroke="#111" stroke-width="0.8"/>
<circle cx="356.1" cy="155.8" r="1.75" fill="#4fd3d6"/>
<path d="M374 158.4 L374.3 158.9 L375 159.4 L375.8 159.9 L376.7 160.4 L377.5 160.9 L378.3 161.5 L379 162 L379.8 162.5 L380.4 163 L380.9 163.5 L367.1 163.5 L367.6 163 L368.2 162.5 L369 162 L369.7 161.5 L370.5 160.9 L371.3 160.4 L372.2 159.9 L373 159.4 L373.7 158.9 L374 158.4Z" fill="#8279e3" stroke="#2f2598" stroke-width="1.1"/>
<line x1="374" y1="159.4" x2="374" y2="163" stroke="#221a80" stroke-width="0.8"/>
<line x1="371.8" y1="162.5" x2="376.2" y2="162.5" stroke="#000" stroke-width="1.6"/>
<circle cx="374" cy="164.2" r="1.75" fill="#4fd3d6"/>
<path d="M391.9 158.2 L392.7 158.7 L393.7 159.3 L394.7 159.8 L395.5 160.3 L396.3 160.8 L397 161.4 L397.7 161.9 L398.2 162.4 L398.6 163 L398.9 163.5 L384.8 163.5 L385.2 163 L385.6 162.4 L386.1 161.9 L386.8 161.4 L387.5 160.8 L388.3 160.3 L389.1 159.8 L390.1 159.3 L391.1 158.7 L391.9 158.2Z" fill="#8279e3" stroke="#2f2598" stroke-width="1.1"/>
<line x1="391.9" y1="159.2" x2="391.9" y2="163" stroke="#221a80" stroke-width="0.8"/>
<line x1="389.7" y1="161.5" x2="394.1" y2="161.5" stroke="#000" stroke-width="1.6"/>
<circle cx="391.9" cy="164" r="1.75" fill="#4fd3d6"/>
<path d="M409.8 151.2 L410.3 151.7 L411.1 152.2 L411.7 152.7 L412.2 153.2 L412.7 153.8 L413.1 154.3 L413.5 154.8 L413.9 155.3 L414.3 155.8 L414.8 156.3 L415.2 156.8 L415.7 157.3 L416 157.9 L416.4 158.4 L416.6 158.9 L416.7 159.4 L416.7 159.9 L416.7 160.4 L416.6 160.9 L416.4 161.4 L416.2 162 L416 162.5 L415.7 163 L415.4 163.5 L404.2 163.5 L403.9 163 L403.6 162.5 L403.4 162 L403.2 161.4 L403 160.9 L402.9 160.4 L402.9 159.9 L402.9 159.4 L403 158.9 L403.2 158.4 L403.6 157.9 L403.9 157.3 L404.4 156.8 L404.8 156.3 L405.3 155.8 L405.7 155.3 L406.1 154.8 L406.5 154.3 L406.9 153.8 L407.4 153.2 L407.9 152.7 L408.5 152.2 L409.3 151.7 L409.8 151.2Z" fill="#8279e3" stroke="#2f2598" stroke-width="1.1"/>
<line x1="409.8" y1="152.2" x2="409.8" y2="163" stroke="#221a80" stroke-width="0.8"/>
<rect x="408" y="158.8" width="3.6" height="2.8" rx="0.8" fill="#fff" stroke="#111" stroke-width="0.8"/>
<line x1="407.6" y1="159.8" x2="412" y2="159.8" stroke="#000" stroke-width="1.6"/>
<circle cx="409.8" cy="164.4" r="1.75" fill="#4fd3d6"/>
<path d="M427.7 161 L428.9 161.4 L430.1 161.7 L431.2 162.1 L432 162.4 L432.8 162.8 L433.5 163.2 L434.1 163.5 L434.6 163.9 L420.8 163.9 L421.3 163.5 L421.9 163.2 L422.6 162.8 L423.4 162.4 L424.2 162.1 L425.3 161.7 L426.5 161.4 L427.7 161Z" fill="#8279e3" stroke="#2f2598" stroke-width="1.1"/>
<line x1="427.7" y1="162" x2="427.7" y2="163.4" stroke="#221a80" stroke-width="0.8"/>
<line x1="425.5" y1="163.2" x2="429.9" y2="163.2" stroke="#000" stroke-width="1.6"/>
<circle cx="427.7" cy="163.9" r="1.75" fill="#4fd3d6"/>
<path d="M445.6 155.9 L446.1 156.4 L447 156.9 L447.7 157.4 L448.3 157.9 L448.9 158.4 L449.5 158.9 L450.2 159.4 L451 159.9 L451.8 160.4 L452.4 160.9 L452.8 161.4 L452.8 161.9 L452.8 162.4 L452.6 162.9 L452.2 163.4 L451.6 163.9 L439.5 163.9 L439 163.4 L438.6 162.9 L438.4 162.4 L438.4 161.9 L438.4 161.4 L438.8 160.9 L439.4 160.4 L440.2 159.9 L441 159.4 L441.7 158.9 L442.3 158.4 L442.9 157.9 L443.5 157.4 L444.2 156.9 L445.1 156.4 L445.6 155.9Z" fill="#8279e3" stroke="#2f2598" stroke-width="1.1"/>
<line x1="445.6" y1="156.9" x2="445.6" y2="163.4" stroke="#221a80" stroke-width="0.8"/>
<rect x="443.6" y="161.8" width="4" height="2.4" rx="0.8" fill="#fff" stroke="#111" stroke-width="0.8"/>
<circle cx="445.6" cy="156.5" r="1.75" fill="#4fd3d6"/>
<g font-family="Liberation Sans, sans-serif" font-size="9" fill="#111">
<text transform="translate(21.7 162.7) rotate(-90) scale(0.68 1)" text-anchor="middle" font-size="10.3">0.0</text>
<text transform="translate(21.7 129.25) rotate(-90) scale(0.68 1)" text-anchor="middle" font-size="10.3">0.5</text>
<text transform="translate(21.7 95.8) rotate(-90) scale(0.68 1)" text-anchor="middle" font-size="10.3">1.0</text>
<text transform="translate(21.7 62.35) rotate(-90) scale(0.68 1)" text-anchor="middle" font-size="10.3">1.5</text>
<text transform="translate(21.7 28.9) rotate(-90) scale(0.68 1)" text-anchor="middle" font-size="10.3">2.0</text>
<text transform="translate(52.4 177.5) scale(0.81 1)" text-anchor="middle" font-size="9.7">&lt;-10</text>
<text transform="translate(70.3 177.5) scale(0.81 1)" text-anchor="middle" font-size="9.7">-10</text>
<text transform="translate(88.2 177.5) scale(0.81 1)" text-anchor="middle" font-size="9.7">-9</text>
<text transform="translate(106.1 177.5) scale(0.81 1)" text-anchor="middle" font-size="9.7">-8</text>
<text transform="translate(124 177.5) scale(0.81 1)" text-anchor="middle" font-size="9.7">-7</text>
<text transform="translate(141.9 177.5) scale(0.81 1)" text-anchor="middle" font-size="9.7">-6</text>
<text transform="translate(159.8 177.5) scale(0.81 1)" text-anchor="middle" font-size="9.7">-5</text>
<text transform="translate(177.7 177.5) scale(0.81 1)" text-anchor="middle" font-size="9.7">-4</text>
<text transform="translate(195.6 177.5) scale(0.81 1)" text-anchor="middle" font-size="9.7">-3</text>
<text transform="translate(213.5 177.5) scale(0.81 1)" text-anchor="middle" font-size="9.7">-2</text>
<text transform="translate(231.4 177.5) scale(0.81 1)" text-anchor="middle" font-size="9.7">-1</text>
<text transform="translate(248.9 177.5) scale(0.81 1)" text-anchor="middle" font-size="9.7">0</text>
<text transform="translate(266.8 177.5) scale(0.81 1)" text-anchor="middle" font-size="9.7">1</text>
<text transform="translate(284.7 177.5) scale(0.81 1)" text-anchor="middle" font-size="9.7">2</text>
<text transform="translate(302.6 177.5) scale(0.81 1)" text-anchor="middle" font-size="9.7">3</text>
<text transform="translate(320.5 177.5) scale(0.81 1)" text-anchor="middle" font-size="9.7">4</text>
<text transform="translate(338.4 177.5) scale(0.81 1)" text-anchor="middle" font-size="9.7">5</text>
<text transform="translate(356.3 177.5) scale(0.81 1)" text-anchor="middle" font-size="9.7">6</text>
<text transform="translate(374.2 177.5) scale(0.81 1)" text-anchor="middle" font-size="9.7">7</text>
<text transform="translate(392.1 177.5) scale(0.81 1)" text-anchor="middle" font-size="9.7">8</text>
<text transform="translate(410 177.5) scale(0.81 1)" text-anchor="middle" font-size="9.7">9</text>
<text transform="translate(427.9 177.5) scale(0.81 1)" text-anchor="middle" font-size="9.7">10</text>
<text transform="translate(445.8 177.5) scale(0.81 1)" text-anchor="middle" font-size="9.7">&gt;10</text>
</g>
<text x="249.1" y="190.6" text-anchor="middle" font-family="Liberation Sans, sans-serif" font-size="11.4" fill="#111">Indel Length (bp)</text>
<text transform="translate(9.9 95.5) rotate(-90)" text-anchor="middle" font-family="Liberation Sans, sans-serif" font-size="10.6" fill="#111">Density (indels per Mb)</text>
<text transform="translate(0.3 9.8) scale(0.96 1)" font-family="Liberation Sans, sans-serif" font-size="16.6" fill="#000">a</text>
<rect x="406.5" y="24.5" width="64" height="49.5" fill="#fff" stroke="#b8b8b8" stroke-width="1"/>
<rect x="413.3" y="32.4" width="6.6" height="4.9" fill="#ac1d25"/>
<rect x="413.3" y="42.2" width="6.6" height="4.9" fill="#1c1683"/>
<circle cx="419.6" cy="54.8" r="2" fill="#4fd3d6" stroke="#2aa7ad" stroke-width="0.5"/>
<circle cx="419.6" cy="64.7" r="2" fill="#d98a3a" stroke="#c07030" stroke-width="0.5"/>
<g font-family="Liberation Sans, sans-serif" font-size="8.6" fill="#111">
<text transform="translate(428 38.3) scale(0.93 1)">Deletions</text>
<text transform="translate(428 47.9) scale(0.93 1)">Insertions</text>
<text transform="translate(428 57.9) scale(0.93 1)">HuRef</text>
<text transform="translate(428 67.8) scale(0.93 1)">YanHuang</text>
</g>
<g stroke="#d2d2d2" stroke-width="1" fill="none">
<line x1="37.8" y1="456.4" x2="467.9" y2="456.4"/>
<line x1="37.8" y1="420.03" x2="467.9" y2="420.03"/>
<line x1="37.8" y1="383.66" x2="467.9" y2="383.66"/>
<line x1="37.8" y1="347.29" x2="467.9" y2="347.29"/>
<line x1="37.8" y1="310.92" x2="467.9" y2="310.92"/>
<line x1="37.8" y1="274.55" x2="467.9" y2="274.55"/>
<line x1="37.8" y1="238.18" x2="467.9" y2="238.18"/>
<line x1="100" y1="218.3" x2="100" y2="465"/>
<line x1="161.2" y1="218.3" x2="161.2" y2="465"/>
<line x1="222.4" y1="218.3" x2="222.4" y2="465"/>
<line x1="283.6" y1="218.3" x2="283.6" y2="465"/>
<line x1="344.8" y1="218.3" x2="344.8" y2="465"/>
<line x1="406" y1="218.3" x2="406" y2="465"/>
</g>
<g stroke="#ababab" stroke-width="1" fill="none">
<rect x="37.8" y="218.3" width="430.1" height="246.7"/>
<line x1="33.8" y1="456.4" x2="37.8" y2="456.4"/>
<line x1="33.8" y1="420.03" x2="37.8" y2="420.03"/>
<line x1="33.8" y1="383.66" x2="37.8" y2="383.66"/>
<line x1="33.8" y1="347.29" x2="37.8" y2="347.29"/>
<line x1="33.8" y1="310.92" x2="37.8" y2="310.92"/>
<line x1="33.8" y1="274.55" x2="37.8" y2="274.55"/>
<line x1="33.8" y1="238.18" x2="37.8" y2="238.18"/>
<line x1="100" y1="465" x2="100" y2="468.5"/>
<line x1="161.2" y1="465" x2="161.2" y2="468.5"/>
<line x1="222.4" y1="465" x2="222.4" y2="468.5"/>
<line x1="283.6" y1="465" x2="283.6" y2="468.5"/>
<line x1="344.8" y1="465" x2="344.8" y2="468.5"/>
<line x1="406" y1="465" x2="406" y2="468.5"/>
<line x1="467.2" y1="465" x2="467.2" y2="468.5"/>
</g>
<path d="M69.7 411.1 L69.8 411.6 L69.9 412.1 L70 412.6 L70.1 413.1 L70.2 413.6 L70.3 414.1 L70.4 414.6 L70.6 415.1 L70.7 415.6 L71 416.1 L71.2 416.6 L71.5 417.1 L71.9 417.6 L72.2 418.1 L72.6 418.6 L72.9 419.1 L73.3 419.6 L73.6 420.1 L74 420.6 L74.4 421.1 L74.8 421.6 L75.2 422.1 L75.6 422.7 L76 423.2 L76.4 423.7 L76.8 424.2 L77.2 424.7 L77.6 425.2 L78 425.7 L78.4 426.2 L78.9 426.7 L79.3 427.2 L79.7 427.7 L80.2 428.2 L80.7 428.7 L81.2 429.2 L81.8 429.7 L82.4 430.2 L83 430.7 L83.6 431.2 L84.1 431.7 L84.7 432.2 L85.3 432.7 L85.8 433.2 L86.4 433.7 L86.9 434.2 L87.4 434.7 L87.9 435.2 L88.4 435.7 L88.8 436.2 L89.3 436.7 L89.7 437.2 L90.2 437.7 L90.7 438.2 L91.3 438.7 L91.8 439.2 L92.2 439.7 L92.5 440.2 L92.9 440.7 L93.1 441.2 L93.3 441.7 L93.4 442.2 L93.4 442.7 L93.3 443.2 L93.2 443.7 L93.1 444.2 L92.9 444.7 L92.7 445.3 L92.5 445.8 L92.2 446.3 L91.8 446.8 L91.5 447.3 L91 447.8 L90.5 448.3 L89.9 448.8 L89.4 449.3 L88.8 449.8 L88.2 450.3 L87.6 450.8 L86.9 451.3 L86.3 451.8 L85.7 452.3 L85.1 452.8 L84.4 453.3 L83.8 453.8 L83.3 454.3 L82.7 454.8 L82.2 455.3 L81.6 455.8 L81.1 456.3 L57.3 456.3 L56.8 455.8 L56.2 455.3 L55.7 454.8 L55.1 454.3 L54.6 453.8 L54 453.3 L53.3 452.8 L52.7 452.3 L52.1 451.8 L51.5 451.3 L50.8 450.8 L50.2 450.3 L49.6 449.8 L49 449.3 L48.5 448.8 L47.9 448.3 L47.4 447.8 L46.9 447.3 L46.6 446.8 L46.2 446.3 L45.9 445.8 L45.7 445.3 L45.5 444.7 L45.3 444.2 L45.2 443.7 L45.1 443.2 L45 442.7 L45 442.2 L45.1 441.7 L45.3 441.2 L45.5 440.7 L45.9 440.2 L46.2 439.7 L46.6 439.2 L47.1 438.7 L47.7 438.2 L48.2 437.7 L48.7 437.2 L49.1 436.7 L49.6 436.2 L50 435.7 L50.5 435.2 L51 434.7 L51.5 434.2 L52 433.7 L52.6 433.2 L53.1 432.7 L53.7 432.2 L54.3 431.7 L54.8 431.2 L55.4 430.7 L56 430.2 L56.6 429.7 L57.2 429.2 L57.7 428.7 L58.2 428.2 L58.7 427.7 L59.1 427.2 L59.5 426.7 L60 426.2 L60.4 425.7 L60.8 425.2 L61.2 424.7 L61.6 424.2 L62 423.7 L62.4 423.2 L62.8 422.7 L63.2 422.1 L63.6 421.6 L64 421.1 L64.4 420.6 L64.8 420.1 L65.1 419.6 L65.5 419.1 L65.8 418.6 L66.2 418.1 L66.5 417.6 L66.9 417.1 L67.2 416.6 L67.4 416.1 L67.7 415.6 L67.8 415.1 L68 414.6 L68.1 414.1 L68.2 413.6 L68.3 413.1 L68.4 412.6 L68.5 412.1 L68.6 411.6 L68.7 411.1Z" fill="#9068c0" fill-opacity="0.235" stroke="#5d3898" stroke-width="1.5"/>
<line x1="69.2" y1="424.1" x2="69.2" y2="456.3" stroke="#111" stroke-width="1.15"/>
<rect x="61.2" y="437.8" width="15.8" height="10.9" fill="#fff" stroke="#111" stroke-width="1.4"/>
<line x1="61.2" y1="443.1" x2="77" y2="443.1" stroke="#000" stroke-width="2.4"/>
<path d="M130.7 421.2 L130.7 421.7 L130.9 422.2 L131 422.7 L131.1 423.2 L131.3 423.7 L131.5 424.2 L131.7 424.7 L131.9 425.2 L132.1 425.7 L132.4 426.2 L132.7 426.7 L133 427.2 L133.3 427.7 L133.6 428.2 L134 428.7 L134.4 429.2 L134.8 429.7 L135.2 430.2 L135.7 430.7 L136.1 431.2 L136.6 431.7 L137.1 432.2 L137.6 432.7 L138.1 433.2 L138.6 433.7 L139.2 434.2 L139.8 434.7 L140.3 435.2 L140.9 435.7 L141.6 436.2 L142.2 436.7 L142.8 437.2 L143.4 437.7 L144 438.2 L144.6 438.7 L145.3 439.2 L145.9 439.7 L146.4 440.2 L147 440.7 L147.6 441.2 L148.1 441.7 L148.7 442.2 L149.2 442.7 L149.7 443.2 L150.3 443.7 L150.8 444.2 L151.4 444.7 L151.9 445.2 L152.4 445.7 L152.9 446.2 L153.2 446.7 L153.6 447.2 L153.9 447.7 L154.2 448.2 L154.4 448.7 L154.4 449.2 L154.3 449.7 L154.1 450.2 L153.8 450.7 L153.5 451.2 L153.2 451.7 L152.7 452.2 L152.2 452.7 L151.6 453.2 L151 453.7 L150.3 454.2 L149.7 454.7 L149 455.2 L148.2 455.7 L147.4 456.2 L113 456.2 L112.3 455.7 L111.5 455.2 L110.8 454.7 L110.2 454.2 L109.5 453.7 L108.9 453.2 L108.3 452.7 L107.8 452.2 L107.3 451.7 L107 451.2 L106.7 450.7 L106.4 450.2 L106.2 449.7 L106.1 449.2 L106.1 448.7 L106.3 448.2 L106.6 447.7 L106.9 447.2 L107.3 446.7 L107.6 446.2 L108.1 445.7 L108.6 445.2 L109.1 444.7 L109.7 444.2 L110.2 443.7 L110.8 443.2 L111.3 442.7 L111.8 442.2 L112.4 441.7 L112.9 441.2 L113.5 440.7 L114 440.2 L114.6 439.7 L115.2 439.2 L115.9 438.7 L116.5 438.2 L117.1 437.7 L117.7 437.2 L118.3 436.7 L118.9 436.2 L119.6 435.7 L120.2 435.2 L120.7 434.7 L121.3 434.2 L121.9 433.7 L122.4 433.2 L122.9 432.7 L123.4 432.2 L123.9 431.7 L124.4 431.2 L124.8 430.7 L125.3 430.2 L125.7 429.7 L126.1 429.2 L126.5 428.7 L126.9 428.2 L127.2 427.7 L127.5 427.2 L127.8 426.7 L128.1 426.2 L128.4 425.7 L128.6 425.2 L128.8 424.7 L129 424.2 L129.2 423.7 L129.4 423.2 L129.5 422.7 L129.6 422.2 L129.8 421.7 L129.8 421.2Z" fill="#9068c0" fill-opacity="0.235" stroke="#5d3898" stroke-width="1.5"/>
<line x1="130.25" y1="437.1" x2="130.25" y2="456.2" stroke="#111" stroke-width="1.15"/>
<rect x="122.3" y="445.3" width="15.8" height="6.4" fill="#fff" stroke="#111" stroke-width="1.4"/>
<line x1="122.3" y1="448.5" x2="138.1" y2="448.5" stroke="#000" stroke-width="2.4"/>
<path d="M192 393.9 L192 394.4 L192 394.9 L192 395.4 L192 395.9 L192.1 396.4 L192.1 396.9 L192.1 397.4 L192.2 397.9 L192.2 398.4 L192.3 398.9 L192.4 399.4 L192.4 399.9 L192.5 400.4 L192.6 400.9 L192.7 401.4 L192.8 401.9 L192.9 402.4 L192.9 402.9 L193 403.4 L193.1 403.9 L193.2 404.4 L193.3 404.9 L193.4 405.4 L193.5 405.9 L193.7 406.4 L193.8 406.9 L193.9 407.4 L194 407.9 L194.2 408.4 L194.3 408.9 L194.4 409.4 L194.6 409.9 L194.7 410.4 L194.9 410.9 L195 411.4 L195.2 411.9 L195.4 412.4 L195.5 412.9 L195.7 413.4 L195.9 413.9 L196.1 414.4 L196.3 414.9 L196.5 415.4 L196.7 415.9 L196.9 416.4 L197.1 416.9 L197.4 417.4 L197.6 417.9 L197.8 418.4 L198.1 418.9 L198.4 419.4 L198.6 419.9 L198.9 420.4 L199.2 420.9 L199.5 421.4 L199.8 421.9 L200.1 422.4 L200.4 422.9 L200.8 423.4 L201.1 423.9 L201.4 424.4 L201.8 424.9 L202.1 425.4 L202.5 425.9 L202.9 426.4 L203.3 426.9 L203.7 427.4 L204.1 427.9 L204.5 428.4 L204.9 428.9 L205.3 429.4 L205.7 429.9 L206.2 430.4 L206.6 430.9 L207 431.4 L207.4 431.9 L207.8 432.4 L208.2 432.9 L208.6 433.4 L209 433.9 L209.4 434.4 L209.7 434.9 L210.1 435.4 L210.5 435.9 L210.9 436.4 L211.2 436.9 L211.5 437.4 L211.8 437.9 L212.1 438.4 L212.4 438.9 L212.7 439.4 L213 439.9 L213.2 440.4 L213.5 440.9 L213.7 441.4 L214 441.9 L214.2 442.4 L214.4 442.9 L214.6 443.4 L214.8 443.9 L215 444.4 L215.2 444.9 L215.3 445.4 L215.3 445.9 L215.3 446.4 L215.3 446.9 L215.2 447.4 L215.1 447.9 L214.9 448.4 L214.8 448.9 L214.6 449.4 L214.2 449.9 L213.9 450.4 L213.5 450.9 L213 451.4 L212.6 451.9 L212.2 452.4 L211.8 452.9 L211.3 453.4 L210.9 453.9 L210.4 454.4 L209.9 454.9 L209.4 455.4 L208.8 455.9 L174.5 455.9 L173.9 455.4 L173.4 454.9 L172.9 454.4 L172.4 453.9 L172 453.4 L171.5 452.9 L171.1 452.4 L170.7 451.9 L170.3 451.4 L169.8 450.9 L169.4 450.4 L169.1 449.9 L168.7 449.4 L168.5 448.9 L168.4 448.4 L168.2 447.9 L168.1 447.4 L168 446.9 L168 446.4 L168 445.9 L168 445.4 L168.1 444.9 L168.3 444.4 L168.5 443.9 L168.7 443.4 L168.9 442.9 L169.1 442.4 L169.3 441.9 L169.6 441.4 L169.8 440.9 L170.1 440.4 L170.3 439.9 L170.6 439.4 L170.9 438.9 L171.2 438.4 L171.5 437.9 L171.8 437.4 L172.1 436.9 L172.4 436.4 L172.8 435.9 L173.2 435.4 L173.6 434.9 L173.9 434.4 L174.3 433.9 L174.7 433.4 L175.1 432.9 L175.5 432.4 L175.9 431.9 L176.3 431.4 L176.7 430.9 L177.1 430.4 L177.6 429.9 L178 429.4 L178.4 428.9 L178.8 428.4 L179.2 427.9 L179.6 427.4 L180 426.9 L180.4 426.4 L180.8 425.9 L181.2 425.4 L181.5 424.9 L181.9 424.4 L182.2 423.9 L182.5 423.4 L182.9 422.9 L183.2 422.4 L183.5 421.9 L183.8 421.4 L184.1 420.9 L184.4 420.4 L184.7 419.9 L184.9 419.4 L185.2 418.9 L185.5 418.4 L185.7 417.9 L185.9 417.4 L186.2 416.9 L186.4 416.4 L186.6 415.9 L186.8 415.4 L187 414.9 L187.2 414.4 L187.4 413.9 L187.6 413.4 L187.8 412.9 L187.9 412.4 L188.1 411.9 L188.3 411.4 L188.4 410.9 L188.6 410.4 L188.7 409.9 L188.9 409.4 L189 408.9 L189.1 408.4 L189.3 407.9 L189.4 407.4 L189.5 406.9 L189.6 406.4 L189.8 405.9 L189.9 405.4 L190 404.9 L190.1 404.4 L190.2 403.9 L190.3 403.4 L190.4 402.9 L190.4 402.4 L190.5 401.9 L190.6 401.4 L190.7 400.9 L190.8 400.4 L190.9 399.9 L190.9 399.4 L191 398.9 L191.1 398.4 L191.1 397.9 L191.2 397.4 L191.2 396.9 L191.2 396.4 L191.3 395.9 L191.3 395.4 L191.3 394.9 L191.3 394.4 L191.3 393.9Z" fill="#9068c0" fill-opacity="0.235" stroke="#5d3898" stroke-width="1.5"/>
<line x1="191.65" y1="418.7" x2="191.65" y2="455.9" stroke="#111" stroke-width="1.15"/>
<rect x="183.7" y="437.6" width="15.8" height="13.5" fill="#fff" stroke="#111" stroke-width="1.4"/>
<line x1="183.7" y1="446" x2="199.5" y2="446" stroke="#000" stroke-width="2.4"/>
<path d="M253.5 382.6 L253.6 383.1 L253.7 383.6 L253.8 384.1 L253.9 384.6 L254 385.1 L254.1 385.6 L254.2 386.1 L254.3 386.6 L254.4 387.1 L254.5 387.6 L254.6 388.1 L254.7 388.6 L254.8 389.1 L254.9 389.6 L255 390.1 L255.1 390.6 L255.2 391.1 L255.3 391.6 L255.4 392.1 L255.5 392.6 L255.6 393.1 L255.7 393.6 L255.8 394.1 L256 394.6 L256.1 395.1 L256.2 395.6 L256.3 396.1 L256.4 396.6 L256.5 397.1 L256.7 397.6 L256.8 398.1 L256.9 398.6 L257 399.1 L257.2 399.6 L257.3 400.1 L257.4 400.6 L257.5 401.2 L257.7 401.7 L257.8 402.2 L257.9 402.7 L258 403.2 L258.2 403.7 L258.3 404.2 L258.4 404.7 L258.5 405.2 L258.6 405.7 L258.8 406.2 L258.9 406.7 L259 407.2 L259.1 407.7 L259.3 408.2 L259.4 408.7 L259.5 409.2 L259.7 409.7 L259.8 410.2 L260 410.7 L260.1 411.2 L260.3 411.7 L260.4 412.2 L260.6 412.7 L260.8 413.2 L261 413.7 L261.2 414.2 L261.4 414.7 L261.6 415.2 L261.8 415.7 L262 416.2 L262.2 416.7 L262.4 417.2 L262.7 417.7 L262.9 418.2 L263.1 418.7 L263.4 419.2 L263.7 419.7 L264 420.2 L264.3 420.7 L264.6 421.2 L265 421.7 L265.3 422.2 L265.7 422.7 L266.1 423.2 L266.5 423.7 L266.8 424.2 L267.2 424.7 L267.6 425.2 L268 425.7 L268.3 426.2 L268.7 426.7 L269 427.2 L269.3 427.7 L269.7 428.2 L270 428.7 L270.4 429.2 L270.7 429.7 L271 430.2 L271.3 430.7 L271.7 431.2 L272 431.7 L272.3 432.2 L272.6 432.7 L272.9 433.2 L273.1 433.7 L273.4 434.2 L273.6 434.7 L273.9 435.2 L274.2 435.7 L274.4 436.2 L274.7 436.7 L274.9 437.2 L275.1 437.7 L275.4 438.3 L275.5 438.8 L275.7 439.3 L275.9 439.8 L276 440.3 L276.1 440.8 L276.2 441.3 L276.3 441.8 L276.4 442.3 L276.5 442.8 L276.5 443.3 L276.5 443.8 L276.4 444.3 L276.3 444.8 L276.2 445.3 L276 445.8 L275.8 446.3 L275.6 446.8 L275.3 447.3 L275.1 447.8 L274.8 448.3 L274.6 448.8 L274.3 449.3 L273.9 449.8 L273.6 450.3 L273.2 450.8 L272.8 451.3 L272.4 451.8 L271.9 452.3 L271.6 452.8 L271.2 453.3 L270.7 453.8 L270.3 454.3 L269.9 454.8 L269.5 455.3 L269 455.8 L268.6 456.3 L237 456.3 L236.6 455.8 L236.1 455.3 L235.7 454.8 L235.3 454.3 L234.9 453.8 L234.4 453.3 L234 452.8 L233.7 452.3 L233.2 451.8 L232.8 451.3 L232.4 450.8 L232 450.3 L231.7 449.8 L231.3 449.3 L231 448.8 L230.8 448.3 L230.5 447.8 L230.3 447.3 L230 446.8 L229.8 446.3 L229.6 445.8 L229.4 445.3 L229.3 444.8 L229.2 444.3 L229.1 443.8 L229.1 443.3 L229.1 442.8 L229.2 442.3 L229.3 441.8 L229.4 441.3 L229.5 440.8 L229.6 440.3 L229.7 439.8 L229.9 439.3 L230.1 438.8 L230.2 438.3 L230.5 437.7 L230.7 437.2 L230.9 436.7 L231.2 436.2 L231.4 435.7 L231.7 435.2 L232 434.7 L232.2 434.2 L232.5 433.7 L232.7 433.2 L233 432.7 L233.3 432.2 L233.6 431.7 L233.9 431.2 L234.3 430.7 L234.6 430.2 L234.9 429.7 L235.2 429.2 L235.6 428.7 L235.9 428.2 L236.3 427.7 L236.6 427.2 L236.9 426.7 L237.3 426.2 L237.6 425.7 L238 425.2 L238.4 424.7 L238.8 424.2 L239.1 423.7 L239.5 423.2 L239.9 422.7 L240.3 422.2 L240.6 421.7 L241 421.2 L241.3 420.7 L241.6 420.2 L241.9 419.7 L242.2 419.2 L242.5 418.7 L242.7 418.2 L242.9 417.7 L243.2 417.2 L243.4 416.7 L243.6 416.2 L243.8 415.7 L244 415.2 L244.2 414.7 L244.4 414.2 L244.6 413.7 L244.8 413.2 L245 412.7 L245.2 412.2 L245.3 411.7 L245.5 411.2 L245.6 410.7 L245.8 410.2 L245.9 409.7 L246.1 409.2 L246.2 408.7 L246.3 408.2 L246.5 407.7 L246.6 407.2 L246.7 406.7 L246.8 406.2 L247 405.7 L247.1 405.2 L247.2 404.7 L247.3 404.2 L247.4 403.7 L247.6 403.2 L247.7 402.7 L247.8 402.2 L247.9 401.7 L248.1 401.2 L248.2 400.6 L248.3 400.1 L248.4 399.6 L248.6 399.1 L248.7 398.6 L248.8 398.1 L248.9 397.6 L249.1 397.1 L249.2 396.6 L249.3 396.1 L249.4 395.6 L249.5 395.1 L249.6 394.6 L249.8 394.1 L249.9 393.6 L250 393.1 L250.1 392.6 L250.2 392.1 L250.3 391.6 L250.4 391.1 L250.5 390.6 L250.6 390.1 L250.7 389.6 L250.8 389.1 L250.9 388.6 L251 388.1 L251.1 387.6 L251.2 387.1 L251.3 386.6 L251.4 386.1 L251.5 385.6 L251.6 385.1 L251.7 384.6 L251.8 384.1 L251.9 383.6 L252 383.1 L252.1 382.6Z" fill="#9068c0" fill-opacity="0.235" stroke="#5d3898" stroke-width="1.5"/>
<line x1="252.8" y1="414.1" x2="252.8" y2="456.3" stroke="#111" stroke-width="1.15"/>
<rect x="244.8" y="432.6" width="16.1" height="13" fill="#fff" stroke="#111" stroke-width="1.4"/>
<line x1="244.8" y1="440.3" x2="260.9" y2="440.3" stroke="#000" stroke-width="2.4"/>
<path d="M314.6 354.5 L314.6 355 L314.7 355.5 L314.8 356 L314.8 356.5 L314.9 357 L315 357.5 L315 358 L315.1 358.5 L315.2 359 L315.3 359.5 L315.4 360 L315.5 360.5 L315.6 361 L315.7 361.5 L315.8 362 L315.9 362.5 L316 363 L316.2 363.5 L316.3 364 L316.4 364.5 L316.6 365 L316.7 365.5 L316.9 366 L317.1 366.5 L317.2 367 L317.4 367.5 L317.6 368 L317.7 368.5 L317.9 369 L318.1 369.5 L318.3 370 L318.4 370.5 L318.6 371 L318.8 371.5 L319 372 L319.2 372.5 L319.4 373 L319.6 373.5 L319.8 374 L320.1 374.5 L320.3 375 L320.5 375.5 L320.8 376 L321 376.5 L321.2 377 L321.5 377.5 L321.7 378 L322 378.5 L322.2 379 L322.5 379.5 L322.7 380 L323 380.5 L323.2 381 L323.5 381.5 L323.7 382 L324 382.5 L324.3 383 L324.5 383.5 L324.8 384 L325.1 384.5 L325.4 385 L325.7 385.5 L325.9 386 L326.2 386.5 L326.5 387 L326.8 387.5 L327.1 388 L327.4 388.5 L327.6 389 L327.9 389.5 L328.2 390 L328.4 390.5 L328.7 391 L329 391.5 L329.2 392 L329.5 392.5 L329.7 393 L330 393.5 L330.2 394 L330.5 394.5 L330.7 395 L331 395.5 L331.2 396 L331.5 396.5 L331.7 397 L332 397.5 L332.2 398 L332.4 398.5 L332.6 399 L332.9 399.5 L333.1 400 L333.3 400.5 L333.5 401 L333.7 401.5 L333.9 402 L334.1 402.5 L334.3 403 L334.5 403.5 L334.7 404 L334.9 404.5 L335.1 405 L335.3 405.5 L335.5 406 L335.6 406.5 L335.8 407 L336 407.5 L336.2 408 L336.3 408.5 L336.5 409 L336.6 409.5 L336.8 410 L336.9 410.5 L337.1 411 L337.2 411.5 L337.3 412 L337.4 412.5 L337.6 413 L337.7 413.5 L337.8 414 L337.9 414.5 L338.1 415 L338.1 415.5 L338.2 416 L338.3 416.5 L338.3 417 L338.3 417.5 L338.3 418 L338.3 418.5 L338.2 419 L338.2 419.5 L338.1 420 L338 420.5 L337.9 421 L337.8 421.5 L337.7 422 L337.6 422.5 L337.5 423 L337.4 423.5 L337.3 424 L337.1 424.5 L336.9 425 L336.7 425.5 L336.5 426 L336.2 426.5 L335.9 427 L335.6 427.5 L335.3 428 L335 428.5 L334.7 429 L334.3 429.5 L334 430 L333.7 430.5 L333.4 431 L333.1 431.5 L332.8 432 L332.4 432.5 L332.1 433 L331.8 433.5 L331.5 434 L331.1 434.5 L330.8 435 L330.4 435.5 L330.1 436 L329.7 436.5 L329.4 437 L329 437.5 L328.6 438 L328.3 438.5 L327.9 439 L327.6 439.5 L327.3 440 L326.9 440.5 L326.6 441 L326.3 441.5 L325.9 442 L325.6 442.5 L325.2 443 L324.9 443.5 L324.6 444 L324.2 444.5 L323.9 445 L323.6 445.5 L323.2 446 L322.9 446.5 L322.6 447 L322.2 447.5 L321.9 448 L321.5 448.5 L321.2 449 L307.2 449 L306.9 448.5 L306.5 448 L306.2 447.5 L305.8 447 L305.5 446.5 L305.2 446 L304.8 445.5 L304.5 445 L304.2 444.5 L303.8 444 L303.5 443.5 L303.2 443 L302.8 442.5 L302.5 442 L302.1 441.5 L301.8 441 L301.5 440.5 L301.1 440 L300.8 439.5 L300.5 439 L300.1 438.5 L299.8 438 L299.4 437.5 L299 437 L298.7 436.5 L298.3 436 L298 435.5 L297.6 435 L297.3 434.5 L296.9 434 L296.6 433.5 L296.3 433 L296 432.5 L295.6 432 L295.3 431.5 L295 431 L294.7 430.5 L294.4 430 L294.1 429.5 L293.7 429 L293.4 428.5 L293.1 428 L292.8 427.5 L292.5 427 L292.2 426.5 L291.9 426 L291.7 425.5 L291.5 425 L291.3 424.5 L291.1 424 L291 423.5 L290.9 423 L290.8 422.5 L290.7 422 L290.6 421.5 L290.5 421 L290.4 420.5 L290.3 420 L290.2 419.5 L290.2 419 L290.1 418.5 L290.1 418 L290.1 417.5 L290.1 417 L290.1 416.5 L290.2 416 L290.3 415.5 L290.3 415 L290.5 414.5 L290.6 414 L290.7 413.5 L290.8 413 L291 412.5 L291.1 412 L291.2 411.5 L291.3 411 L291.5 410.5 L291.6 410 L291.8 409.5 L291.9 409 L292.1 408.5 L292.2 408 L292.4 407.5 L292.6 407 L292.8 406.5 L292.9 406 L293.1 405.5 L293.3 405 L293.5 404.5 L293.7 404 L293.9 403.5 L294.1 403 L294.3 402.5 L294.5 402 L294.7 401.5 L294.9 401 L295.1 400.5 L295.3 400 L295.5 399.5 L295.8 399 L296 398.5 L296.2 398 L296.4 397.5 L296.7 397 L296.9 396.5 L297.2 396 L297.4 395.5 L297.7 395 L297.9 394.5 L298.2 394 L298.4 393.5 L298.7 393 L298.9 392.5 L299.2 392 L299.4 391.5 L299.7 391 L300 390.5 L300.2 390 L300.5 389.5 L300.8 389 L301 388.5 L301.3 388 L301.6 387.5 L301.9 387 L302.2 386.5 L302.5 386 L302.7 385.5 L303 385 L303.3 384.5 L303.6 384 L303.9 383.5 L304.1 383 L304.4 382.5 L304.7 382 L304.9 381.5 L305.2 381 L305.4 380.5 L305.7 380 L305.9 379.5 L306.2 379 L306.4 378.5 L306.7 378 L306.9 377.5 L307.2 377 L307.4 376.5 L307.6 376 L307.9 375.5 L308.1 375 L308.3 374.5 L308.6 374 L308.8 373.5 L309 373 L309.2 372.5 L309.4 372 L309.6 371.5 L309.8 371 L310 370.5 L310.1 370 L310.3 369.5 L310.5 369 L310.7 368.5 L310.8 368 L311 367.5 L311.2 367 L311.3 366.5 L311.5 366 L311.7 365.5 L311.8 365 L312 364.5 L312.1 364 L312.2 363.5 L312.4 363 L312.5 362.5 L312.6 362 L312.7 361.5 L312.8 361 L312.9 360.5 L313 360 L313.1 359.5 L313.2 359 L313.3 358.5 L313.4 358 L313.4 357.5 L313.5 357 L313.6 356.5 L313.6 356 L313.7 355.5 L313.8 355 L313.8 354.5Z" fill="#9068c0" fill-opacity="0.235" stroke="#5d3898" stroke-width="1.5"/>
<line x1="314.2" y1="373.5" x2="314.2" y2="449" stroke="#111" stroke-width="1.15"/>
<rect x="305.9" y="405.1" width="16.3" height="22.5" fill="#fff" stroke="#111" stroke-width="1.4"/>
<line x1="305.9" y1="416.4" x2="322.2" y2="416.4" stroke="#000" stroke-width="2.4"/>
<path d="M375.2 292.9 L376.5 293.4 L377 293.9 L377.2 294.4 L377.3 294.9 L377.4 295.4 L377.5 295.9 L377.6 296.4 L377.8 296.9 L377.9 297.4 L378 297.9 L378.1 298.4 L378.2 298.9 L378.4 299.4 L378.5 299.9 L378.7 300.4 L378.8 300.9 L379 301.4 L379.2 301.9 L379.4 302.4 L379.6 302.9 L379.9 303.4 L380.1 303.9 L380.4 304.4 L380.6 304.9 L380.9 305.4 L381.2 305.9 L381.5 306.4 L381.8 306.9 L382 307.4 L382.3 307.9 L382.6 308.4 L382.9 308.9 L383.2 309.4 L383.5 309.9 L383.8 310.4 L384.1 310.9 L384.4 311.4 L384.7 311.9 L384.9 312.4 L385.2 312.9 L385.5 313.4 L385.7 313.9 L386 314.4 L386.3 314.9 L386.6 315.4 L386.8 315.9 L387.1 316.4 L387.4 316.9 L387.7 317.4 L387.9 317.9 L388.2 318.4 L388.5 318.9 L388.7 319.4 L389 319.9 L389.3 320.4 L389.6 320.9 L389.8 321.4 L390.1 321.9 L390.4 322.4 L390.6 322.9 L390.9 323.4 L391.1 323.9 L391.4 324.4 L391.6 324.9 L391.9 325.4 L392.1 325.9 L392.4 326.4 L392.6 326.9 L392.9 327.4 L393.1 327.9 L393.4 328.4 L393.7 328.9 L393.9 329.4 L394.2 329.9 L394.5 330.4 L394.7 330.9 L395 331.4 L395.2 331.9 L395.4 332.4 L395.7 332.9 L395.9 333.4 L396.1 333.9 L396.3 334.4 L396.5 334.9 L396.7 335.4 L396.8 335.9 L397 336.4 L397.1 336.9 L397.2 337.4 L397.3 337.9 L397.4 338.4 L397.5 338.9 L397.6 339.4 L397.7 339.9 L397.8 340.4 L397.9 340.9 L398 341.4 L398.1 341.9 L398.1 342.4 L398.2 342.9 L398.3 343.4 L398.3 343.9 L398.4 344.4 L398.4 344.9 L398.5 345.4 L398.5 345.9 L398.5 346.4 L398.5 346.9 L398.5 347.4 L398.5 347.9 L398.5 348.4 L398.5 348.9 L398.4 349.4 L398.4 349.9 L398.3 350.4 L398.2 350.9 L398.2 351.5 L398.1 352 L398 352.5 L397.9 353 L397.7 353.5 L397.6 354 L397.5 354.5 L397.4 355 L397.2 355.5 L397.1 356 L397 356.5 L396.9 357 L396.7 357.5 L396.6 358 L396.4 358.5 L396.3 359 L396.1 359.5 L395.9 360 L395.7 360.5 L395.5 361 L395.3 361.5 L395.1 362 L394.8 362.5 L394.6 363 L394.4 363.5 L394.1 364 L393.9 364.5 L393.6 365 L393.4 365.5 L393.1 366 L392.9 366.5 L392.6 367 L392.4 367.5 L392.2 368 L391.9 368.5 L391.7 369 L391.5 369.5 L391.3 370 L391.1 370.5 L390.9 371 L390.7 371.5 L390.5 372 L390.3 372.5 L390.1 373 L389.9 373.5 L389.7 374 L389.5 374.5 L389.3 375 L389.1 375.5 L388.9 376 L388.7 376.5 L388.5 377 L388.3 377.5 L388.1 378 L387.9 378.5 L387.7 379 L387.5 379.5 L387.3 380 L387.1 380.5 L386.9 381 L386.7 381.5 L386.5 382 L386.3 382.5 L386.1 383 L385.9 383.5 L385.7 384 L385.5 384.5 L385.3 385 L385.1 385.5 L384.9 386 L384.7 386.5 L384.5 387 L384.3 387.5 L384.1 388 L383.9 388.5 L383.7 389 L383.5 389.5 L383.3 390 L383.1 390.5 L382.9 391 L382.7 391.5 L382.5 392 L382.3 392.5 L382.1 393 L381.9 393.5 L381.7 394 L381.5 394.5 L381.3 395 L381.1 395.5 L380.9 396 L380.8 396.5 L380.6 397 L380.4 397.5 L380.3 398 L380.1 398.5 L379.9 399 L379.8 399.5 L379.6 400 L379.4 400.5 L379.3 401 L379.1 401.5 L378.9 402 L378.7 402.5 L378.5 403 L378.4 403.5 L378.2 404 L378 404.5 L377.7 405 L377.5 405.5 L377.3 406 L377.1 406.5 L376.8 407 L376.5 407.5 L376.2 408 L375.7 408.5 L375.2 409 L375.2 409 L374.8 408.5 L374.3 408 L374 407.5 L373.7 407 L373.4 406.5 L373.2 406 L373 405.5 L372.8 405 L372.5 404.5 L372.3 404 L372.1 403.5 L372 403 L371.8 402.5 L371.6 402 L371.4 401.5 L371.2 401 L371.1 400.5 L370.9 400 L370.7 399.5 L370.6 399 L370.4 398.5 L370.2 398 L370.1 397.5 L369.9 397 L369.7 396.5 L369.6 396 L369.4 395.5 L369.2 395 L369 394.5 L368.8 394 L368.6 393.5 L368.4 393 L368.2 392.5 L368 392 L367.8 391.5 L367.6 391 L367.4 390.5 L367.2 390 L367 389.5 L366.8 389 L366.6 388.5 L366.4 388 L366.2 387.5 L366 387 L365.8 386.5 L365.6 386 L365.4 385.5 L365.2 385 L365 384.5 L364.8 384 L364.6 383.5 L364.4 383 L364.2 382.5 L364 382 L363.8 381.5 L363.6 381 L363.4 380.5 L363.2 380 L363 379.5 L362.8 379 L362.6 378.5 L362.4 378 L362.2 377.5 L362 377 L361.8 376.5 L361.6 376 L361.4 375.5 L361.2 375 L361 374.5 L360.8 374 L360.6 373.5 L360.4 373 L360.2 372.5 L360 372 L359.8 371.5 L359.6 371 L359.4 370.5 L359.2 370 L359 369.5 L358.8 369 L358.6 368.5 L358.3 368 L358.1 367.5 L357.9 367 L357.6 366.5 L357.4 366 L357.1 365.5 L356.9 365 L356.6 364.5 L356.4 364 L356.1 363.5 L355.9 363 L355.7 362.5 L355.4 362 L355.2 361.5 L355 361 L354.8 360.5 L354.6 360 L354.4 359.5 L354.2 359 L354.1 358.5 L353.9 358 L353.8 357.5 L353.6 357 L353.5 356.5 L353.4 356 L353.3 355.5 L353.1 355 L353 354.5 L352.9 354 L352.8 353.5 L352.6 353 L352.5 352.5 L352.4 352 L352.3 351.5 L352.3 350.9 L352.2 350.4 L352.1 349.9 L352.1 349.4 L352 348.9 L352 348.4 L352 347.9 L352 347.4 L352 346.9 L352 346.4 L352 345.9 L352 345.4 L352.1 344.9 L352.1 344.4 L352.2 343.9 L352.2 343.4 L352.3 342.9 L352.4 342.4 L352.4 341.9 L352.5 341.4 L352.6 340.9 L352.7 340.4 L352.8 339.9 L352.9 339.4 L353 338.9 L353.1 338.4 L353.2 337.9 L353.3 337.4 L353.4 336.9 L353.5 336.4 L353.7 335.9 L353.8 335.4 L354 334.9 L354.2 334.4 L354.4 333.9 L354.6 333.4 L354.8 332.9 L355.1 332.4 L355.3 331.9 L355.5 331.4 L355.8 330.9 L356 330.4 L356.3 329.9 L356.6 329.4 L356.8 328.9 L357.1 328.4 L357.4 327.9 L357.6 327.4 L357.9 326.9 L358.1 326.4 L358.4 325.9 L358.6 325.4 L358.9 324.9 L359.1 324.4 L359.4 323.9 L359.6 323.4 L359.9 322.9 L360.1 322.4 L360.4 321.9 L360.7 321.4 L360.9 320.9 L361.2 320.4 L361.5 319.9 L361.8 319.4 L362 318.9 L362.3 318.4 L362.6 317.9 L362.8 317.4 L363.1 316.9 L363.4 316.4 L363.7 315.9 L363.9 315.4 L364.2 314.9 L364.5 314.4 L364.8 313.9 L365 313.4 L365.3 312.9 L365.6 312.4 L365.8 311.9 L366.1 311.4 L366.4 310.9 L366.7 310.4 L367 309.9 L367.3 309.4 L367.6 308.9 L367.9 308.4 L368.2 307.9 L368.5 307.4 L368.7 306.9 L369 306.4 L369.3 305.9 L369.6 305.4 L369.9 304.9 L370.1 304.4 L370.4 303.9 L370.6 303.4 L370.9 302.9 L371.1 302.4 L371.3 301.9 L371.5 301.4 L371.7 300.9 L371.8 300.4 L372 299.9 L372.1 299.4 L372.3 298.9 L372.4 298.4 L372.5 297.9 L372.6 297.4 L372.7 296.9 L372.9 296.4 L373 295.9 L373.1 295.4 L373.2 294.9 L373.3 294.4 L373.5 293.9 L374 293.4 L375.2 292.9Z" fill="#9068c0" fill-opacity="0.235" stroke="#5d3898" stroke-width="1.5"/>
<line x1="375.25" y1="304.1" x2="375.25" y2="395.9" stroke="#111" stroke-width="1.15"/>
<rect x="367.3" y="336.4" width="16.5" height="24.3" fill="#fff" stroke="#111" stroke-width="1.4"/>
<line x1="367.3" y1="347.5" x2="383.8" y2="347.5" stroke="#000" stroke-width="2.4"/>
<path d="M441.7 227.2 L442.1 227.7 L442.4 228.2 L442.8 228.7 L443.2 229.2 L443.6 229.7 L443.9 230.2 L444.3 230.7 L444.6 231.2 L445 231.7 L445.3 232.2 L445.7 232.7 L446 233.2 L446.3 233.7 L446.7 234.2 L447 234.7 L447.3 235.2 L447.6 235.7 L448 236.2 L448.3 236.7 L448.6 237.2 L448.9 237.7 L449.2 238.2 L449.5 238.7 L449.8 239.2 L450.2 239.7 L450.5 240.2 L450.8 240.7 L451.1 241.2 L451.3 241.7 L451.6 242.2 L451.9 242.7 L452.2 243.2 L452.5 243.7 L452.8 244.2 L453 244.7 L453.3 245.2 L453.6 245.7 L453.8 246.2 L454.1 246.7 L454.3 247.2 L454.6 247.7 L454.9 248.2 L455.1 248.7 L455.4 249.2 L455.6 249.7 L455.9 250.2 L456.2 250.7 L456.4 251.2 L456.6 251.7 L456.9 252.2 L457.1 252.7 L457.3 253.2 L457.6 253.7 L457.8 254.2 L458 254.7 L458.2 255.2 L458.4 255.7 L458.5 256.2 L458.7 256.7 L458.8 257.2 L459 257.7 L459.1 258.2 L459.3 258.7 L459.4 259.2 L459.6 259.7 L459.7 260.2 L459.9 260.7 L460 261.2 L460.1 261.7 L460.3 262.2 L460.4 262.7 L460.5 263.2 L460.6 263.7 L460.7 264.2 L460.7 264.7 L460.8 265.2 L460.9 265.7 L460.9 266.2 L460.9 266.7 L460.9 267.2 L460.9 267.7 L460.9 268.2 L460.8 268.7 L460.8 269.2 L460.7 269.7 L460.7 270.2 L460.6 270.7 L460.6 271.2 L460.5 271.7 L460.4 272.2 L460.3 272.7 L460.2 273.2 L460.1 273.7 L460 274.2 L459.9 274.7 L459.8 275.2 L459.7 275.7 L459.6 276.2 L459.5 276.7 L459.4 277.2 L459.2 277.7 L459.1 278.2 L458.9 278.7 L458.7 279.2 L458.5 279.7 L458.3 280.2 L458.1 280.7 L457.8 281.2 L457.6 281.7 L457.3 282.2 L457.1 282.7 L456.8 283.2 L456.6 283.7 L456.3 284.2 L456 284.7 L455.8 285.2 L455.5 285.7 L455.3 286.2 L455 286.7 L454.8 287.2 L454.6 287.7 L454.4 288.2 L454.1 288.7 L453.9 289.2 L453.7 289.7 L453.5 290.2 L453.3 290.7 L453.1 291.2 L452.9 291.7 L452.7 292.2 L452.5 292.7 L452.2 293.2 L452 293.7 L451.8 294.2 L451.6 294.7 L451.4 295.2 L451.2 295.7 L451 296.2 L450.8 296.7 L450.6 297.2 L450.4 297.7 L450.2 298.2 L449.9 298.7 L449.7 299.2 L449.5 299.7 L449.3 300.2 L449.1 300.7 L448.9 301.2 L448.7 301.7 L448.5 302.2 L448.2 302.7 L448 303.2 L447.8 303.7 L447.6 304.2 L447.4 304.7 L447.1 305.2 L446.9 305.7 L446.7 306.2 L446.5 306.7 L446.3 307.2 L446.1 307.7 L445.8 308.2 L445.6 308.7 L445.4 309.2 L445.2 309.7 L445 310.2 L444.8 310.7 L444.6 311.2 L444.4 311.7 L444.2 312.2 L444.1 312.7 L443.9 313.2 L443.7 313.7 L443.5 314.2 L443.3 314.7 L443.2 315.2 L443 315.7 L442.8 316.2 L442.6 316.7 L442.5 317.2 L442.3 317.7 L442.1 318.2 L441.9 318.7 L441.8 319.2 L441.6 319.7 L441.5 320.2 L441.3 320.7 L441.1 321.2 L441 321.7 L440.8 322.2 L440.7 322.7 L440.5 323.2 L440.4 323.7 L440.2 324.2 L440.1 324.7 L440 325.2 L439.8 325.7 L439.7 326.2 L439.6 326.7 L439.5 327.2 L439.3 327.7 L439.2 328.2 L439.1 328.7 L438.9 329.2 L438.8 329.7 L438.7 330.2 L438.5 330.7 L438.3 331.2 L438.2 331.7 L438 332.2 L437.8 332.7 L437.6 333.2 L437.3 333.7 L436.9 334.2 L436.5 334.2 L436.1 333.7 L435.8 333.2 L435.6 332.7 L435.4 332.2 L435.2 331.7 L435.1 331.2 L434.9 330.7 L434.7 330.2 L434.6 329.7 L434.5 329.2 L434.3 328.7 L434.2 328.2 L434.1 327.7 L433.9 327.2 L433.8 326.7 L433.7 326.2 L433.6 325.7 L433.4 325.2 L433.3 324.7 L433.2 324.2 L433 323.7 L432.9 323.2 L432.7 322.7 L432.6 322.2 L432.4 321.7 L432.3 321.2 L432.1 320.7 L431.9 320.2 L431.8 319.7 L431.6 319.2 L431.5 318.7 L431.3 318.2 L431.1 317.7 L430.9 317.2 L430.8 316.7 L430.6 316.2 L430.4 315.7 L430.2 315.2 L430.1 314.7 L429.9 314.2 L429.7 313.7 L429.5 313.2 L429.3 312.7 L429.2 312.2 L429 311.7 L428.8 311.2 L428.6 310.7 L428.4 310.2 L428.2 309.7 L428 309.2 L427.8 308.7 L427.6 308.2 L427.3 307.7 L427.1 307.2 L426.9 306.7 L426.7 306.2 L426.5 305.7 L426.3 305.2 L426 304.7 L425.8 304.2 L425.6 303.7 L425.4 303.2 L425.2 302.7 L424.9 302.2 L424.7 301.7 L424.5 301.2 L424.3 300.7 L424.1 300.2 L423.9 299.7 L423.7 299.2 L423.5 298.7 L423.2 298.2 L423 297.7 L422.8 297.2 L422.6 296.7 L422.4 296.2 L422.2 295.7 L422 295.2 L421.8 294.7 L421.6 294.2 L421.4 293.7 L421.2 293.2 L420.9 292.7 L420.7 292.2 L420.5 291.7 L420.3 291.2 L420.1 290.7 L419.9 290.2 L419.7 289.7 L419.5 289.2 L419.3 288.7 L419 288.2 L418.8 287.7 L418.6 287.2 L418.4 286.7 L418.1 286.2 L417.9 285.7 L417.6 285.2 L417.4 284.7 L417.1 284.2 L416.8 283.7 L416.6 283.2 L416.3 282.7 L416.1 282.2 L415.8 281.7 L415.6 281.2 L415.3 280.7 L415.1 280.2 L414.9 279.7 L414.7 279.2 L414.5 278.7 L414.3 278.2 L414.2 277.7 L414 277.2 L413.9 276.7 L413.8 276.2 L413.7 275.7 L413.6 275.2 L413.5 274.7 L413.4 274.2 L413.3 273.7 L413.2 273.2 L413.1 272.7 L413 272.2 L412.9 271.7 L412.8 271.2 L412.8 270.7 L412.7 270.2 L412.7 269.7 L412.6 269.2 L412.6 268.7 L412.5 268.2 L412.5 267.7 L412.5 267.2 L412.5 266.7 L412.5 266.2 L412.5 265.7 L412.6 265.2 L412.7 264.7 L412.7 264.2 L412.8 263.7 L412.9 263.2 L413 262.7 L413.1 262.2 L413.3 261.7 L413.4 261.2 L413.5 260.7 L413.7 260.2 L413.8 259.7 L414 259.2 L414.1 258.7 L414.3 258.2 L414.4 257.7 L414.6 257.2 L414.7 256.7 L414.9 256.2 L415 255.7 L415.2 255.2 L415.4 254.7 L415.6 254.2 L415.8 253.7 L416.1 253.2 L416.3 252.7 L416.5 252.2 L416.8 251.7 L417 251.2 L417.2 250.7 L417.5 250.2 L417.8 249.7 L418 249.2 L418.3 248.7 L418.5 248.2 L418.8 247.7 L419.1 247.2 L419.3 246.7 L419.6 246.2 L419.8 245.7 L420.1 245.2 L420.4 244.7 L420.6 244.2 L420.9 243.7 L421.2 243.2 L421.5 242.7 L421.8 242.2 L422.1 241.7 L422.3 241.2 L422.6 240.7 L422.9 240.2 L423.2 239.7 L423.6 239.2 L423.9 238.7 L424.2 238.2 L424.5 237.7 L424.8 237.2 L425.1 236.7 L425.4 236.2 L425.8 235.7 L426.1 235.2 L426.4 234.7 L426.7 234.2 L427.1 233.7 L427.4 233.2 L427.7 232.7 L428.1 232.2 L428.4 231.7 L428.8 231.2 L429.1 230.7 L429.5 230.2 L429.8 229.7 L430.2 229.2 L430.6 228.7 L431 228.2 L431.3 227.7 L431.7 227.2Z" fill="#9068c0" fill-opacity="0.235" stroke="#5d3898" stroke-width="1.5"/>
<line x1="436.7" y1="227.6" x2="436.7" y2="332.6" stroke="#111" stroke-width="1.15"/>
<rect x="428.5" y="256.7" width="16" height="29.1" fill="#fff" stroke="#111" stroke-width="1.4"/>
<line x1="428.5" y1="270.4" x2="444.5" y2="270.4" stroke="#000" stroke-width="2.4"/>
<g font-family="Liberation Sans, sans-serif" font-size="10" fill="#111">
<text transform="translate(29.2 456.4) rotate(-90)" text-anchor="middle">0.0</text>
<text transform="translate(29.2 420.03) rotate(-90)" text-anchor="middle">0.5</text>
<text transform="translate(29.2 383.66) rotate(-90)" text-anchor="middle">1.0</text>
<text transform="translate(29.2 347.29) rotate(-90)" text-anchor="middle">1.5</text>
<text transform="translate(29.2 310.92) rotate(-90)" text-anchor="middle">2.0</text>
<text transform="translate(29.2 274.55) rotate(-90)" text-anchor="middle">2.5</text>
<text transform="translate(29.2 238.18) rotate(-90)" text-anchor="middle">3.0</text>
<text transform="translate(100 478.9) scale(0.95 1)" text-anchor="middle" font-size="10.4">0.001</text>
<text transform="translate(161.2 478.9) scale(0.95 1)" text-anchor="middle" font-size="10.4">0.003</text>
<text transform="translate(222.4 478.9) scale(0.95 1)" text-anchor="middle" font-size="10.4">0.01</text>
<text transform="translate(283.6 478.9) scale(0.95 1)" text-anchor="middle" font-size="10.4">0.032</text>
<text transform="translate(344.8 478.9) scale(0.95 1)" text-anchor="middle" font-size="10.4">0.1</text>
<text transform="translate(406 478.9) scale(0.95 1)" text-anchor="middle" font-size="10.4">0.316</text>
<text transform="translate(467.2 478.9) scale(0.95 1)" text-anchor="middle" font-size="10.4">1</text>
</g>
<text transform="translate(249 495.8) scale(0.915 1)" text-anchor="middle" font-family="Liberation Sans, sans-serif" font-size="16.3" fill="#111">Allele Frequency</text>
<text transform="translate(13.9 345.6) rotate(-90)" text-anchor="middle" font-family="Liberation Sans, sans-serif" font-size="14.5" fill="#111">Density (indels per Mb)</text>
<text x="0.6" y="213.8" font-family="Liberation Sans, sans-serif" font-size="16.3" fill="#000">b</text>
</svg></body></html>
